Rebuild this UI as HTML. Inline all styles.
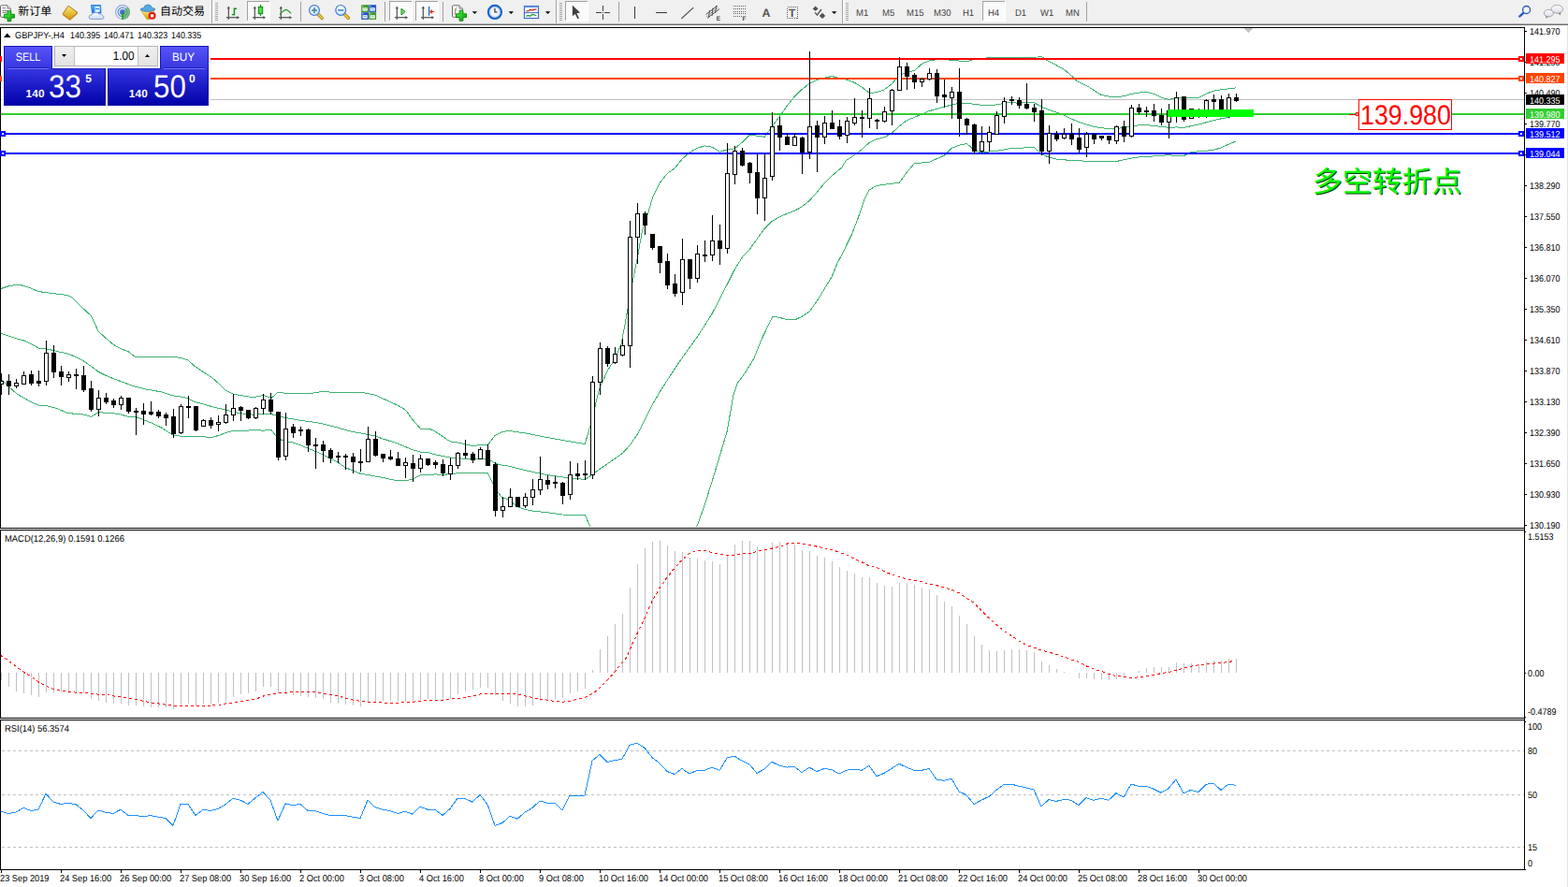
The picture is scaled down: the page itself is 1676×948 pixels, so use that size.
<!DOCTYPE html><html><head><meta charset="utf-8"><title>GBPJPY H4</title><style>
html,body{margin:0;padding:0;background:#fff;}
body{width:1676px;height:948px;position:relative;overflow:hidden;font-family:"Liberation Sans",sans-serif;text-rendering:geometricPrecision;}
.t{position:absolute;white-space:nowrap;font-size:10px;line-height:9px;color:#000;transform:scaleX(0.9);transform-origin:0 0;}
.ax{position:absolute;left:1635px;font-size:10px;line-height:9px;color:#000;white-space:nowrap;transform:scaleX(0.9);transform-origin:0 0;}
.ai{position:absolute;left:1633px;font-size:10px;line-height:9px;color:#000;white-space:nowrap;transform:scaleX(0.9);transform-origin:0 0;}
.pl{position:absolute;left:1631px;width:41px;height:11px;}
.pl span{position:absolute;left:4px;top:3px;color:#fff;font-size:10px;line-height:9px;white-space:nowrap;transform:scaleX(0.9);transform-origin:0 0;}
.tm{position:absolute;top:935px;font-size:10px;line-height:9px;color:#000;white-space:nowrap;transform:scaleX(0.925);transform-origin:0 0;}
.tf{position:absolute;top:10px;font-size:10px;line-height:9px;color:#404040;white-space:nowrap;transform:scaleX(0.95);transform-origin:0 0;}
.abs{position:absolute;}
svg{position:absolute;left:0;top:0;}

</style></head><body>
<div class="abs" style="left:0;top:0;width:1676px;height:25px;background:#f0f0f0"></div>
<div class="abs" style="left:0;top:25px;width:1676px;height:1px;background:#b2b2b2"></div>
<div class="abs" style="left:0;top:26px;width:1676px;height:1px;background:#6e6e6e"></div>
<svg width="1676" height="948" viewBox="0 0 1676 948" shape-rendering="crispEdges">
<rect x="0" y="29" width="1630" height="1" fill="#000"/>
<rect x="0" y="29" width="1" height="536" fill="#000"/>
<rect x="0" y="564" width="1630" height="1" fill="#000"/>
<rect x="1629" y="29" width="1" height="901" fill="#000"/>
<rect x="0" y="566" width="1630" height="1" fill="#000"/>
<rect x="0" y="566" width="1" height="202" fill="#000"/>
<rect x="0" y="767" width="1630" height="1" fill="#000"/>
<rect x="0" y="769" width="1630" height="1" fill="#000"/>
<rect x="0" y="769" width="1" height="161" fill="#000"/>
<rect x="0" y="929" width="1630" height="1" fill="#000"/>
<rect x="1675" y="27" width="1" height="921" fill="#e3e3e3"/>
<rect x="1" y="106" width="1628" height="1" fill="#c0c0c0"/>
<rect x="1630" y="33" width="2" height="1" fill="#000"/>
<rect x="1630" y="66" width="2" height="1" fill="#000"/>
<rect x="1630" y="99" width="2" height="1" fill="#000"/>
<rect x="1630" y="132" width="2" height="1" fill="#000"/>
<rect x="1630" y="165" width="2" height="1" fill="#000"/>
<rect x="1630" y="198" width="2" height="1" fill="#000"/>
<rect x="1630" y="231" width="2" height="1" fill="#000"/>
<rect x="1630" y="264" width="2" height="1" fill="#000"/>
<rect x="1630" y="297" width="2" height="1" fill="#000"/>
<rect x="1630" y="330" width="2" height="1" fill="#000"/>
<rect x="1630" y="363" width="2" height="1" fill="#000"/>
<rect x="1630" y="396" width="2" height="1" fill="#000"/>
<rect x="1630" y="429" width="2" height="1" fill="#000"/>
<rect x="1630" y="462" width="2" height="1" fill="#000"/>
<rect x="1630" y="495" width="2" height="1" fill="#000"/>
<rect x="1630" y="528" width="2" height="1" fill="#000"/>
<rect x="1630" y="561" width="2" height="1" fill="#000"/>
<rect x="1630" y="568" width="1" height="1" fill="#000"/>
<rect x="1630" y="719" width="1" height="1" fill="#000"/>
<rect x="1630" y="766" width="1" height="1" fill="#000"/>
<rect x="1630" y="771" width="1" height="1" fill="#000"/>
<rect x="1630" y="929" width="1" height="1" fill="#000"/>
<rect x="1" y="930" width="1" height="3" fill="#000"/>
<rect x="65" y="930" width="1" height="3" fill="#000"/>
<rect x="129" y="930" width="1" height="3" fill="#000"/>
<rect x="193" y="930" width="1" height="3" fill="#000"/>
<rect x="257" y="930" width="1" height="3" fill="#000"/>
<rect x="321" y="930" width="1" height="3" fill="#000"/>
<rect x="385" y="930" width="1" height="3" fill="#000"/>
<rect x="449" y="930" width="1" height="3" fill="#000"/>
<rect x="513" y="930" width="1" height="3" fill="#000"/>
<rect x="577" y="930" width="1" height="3" fill="#000"/>
<rect x="641" y="930" width="1" height="3" fill="#000"/>
<rect x="705" y="930" width="1" height="3" fill="#000"/>
<rect x="769" y="930" width="1" height="3" fill="#000"/>
<rect x="833" y="930" width="1" height="3" fill="#000"/>
<rect x="897" y="930" width="1" height="3" fill="#000"/>
<rect x="961" y="930" width="1" height="3" fill="#000"/>
<rect x="1025" y="930" width="1" height="3" fill="#000"/>
<rect x="1089" y="930" width="1" height="3" fill="#000"/>
<rect x="1153" y="930" width="1" height="3" fill="#000"/>
<rect x="1217" y="930" width="1" height="3" fill="#000"/>
<rect x="1281" y="930" width="1" height="3" fill="#000"/>
<clipPath id="cm"><rect x="1" y="30" width="1628" height="534"/></clipPath><g clip-path="url(#cm)">
<polyline points="0.0,308.8 8.9,305.9 17.7,304.4 24.4,305.1 33.2,308.2 41.0,311.5 48.7,312.6 57.6,313.7 66.5,314.8 73.1,316.1 76.4,317.7 88.6,329.4 97.5,337.6 105.2,354.2 113.0,361.3 120.7,368.0 128.5,372.4 137.3,375.9 145.1,381.9 152.8,381.3 168.4,381.3 186.1,381.3 194.9,383.0 200.5,384.8 208.2,391.5 217.1,397.4 225.9,403.0 234.8,410.7 241.5,417.4 249.2,421.1 257.0,422.5 265.8,424.0 271.4,424.5 274.4,423.9 281.1,422.5 289.9,425.4 297.0,419.4 305.4,420.3 320.9,421.0 336.5,419.9 345.3,418.1 358.6,419.9 374.1,419.4 389.6,419.9 400.7,422.1 409.6,426.1 425.1,433.2 433.3,438.0 441.2,448.7 449.2,458.0 458.3,458.0 464.9,460.9 473.1,466.4 481.1,471.9 489.3,473.0 497.3,474.8 505.3,476.4 513.2,475.7 521.2,475.7 529.2,465.3 537.2,461.5 542.5,460.4 543.3,460.3 562.2,463.0 584.3,467.4 606.5,471.4 625.3,474.5 628.6,463.0 633.3,447.5 637.5,427.5 641.2,414.2 649.2,396.5 657.4,383.2 664.1,367.7 667.4,350.0 676.5,299.5 681.4,275.1 686.5,246.3 693.1,226.4 697.5,210.9 705.3,195.4 713.3,185.4 721.2,179.9 729.2,169.9 737.4,162.8 745.4,158.2 753.4,155.9 761.3,157.3 769.3,162.2 777.3,159.9 785.3,158.8 793.2,152.2 801.4,144.0 809.2,145.2 817.2,146.3 825.4,135.3 833.4,124.2 841.4,113.1 849.3,103.1 857.3,95.4 865.3,89.2 873.3,85.4 881.2,83.2 889.2,81.4 897.4,83.6 905.4,85.4 913.4,88.3 921.3,93.2 929.3,99.4 937.3,98.7 945.3,95.8 953.2,89.8 961.4,79.9 969.4,77.7 977.4,75.4 985.3,68.4 993.3,64.8 1001.3,63.7 1009.3,63.3 1017.2,64.4 1025.4,65.0 1033.4,65.9 1039.2,63.9 1045.8,62.2 1068.9,61.7 1082.2,61.7 1097.2,61.7 1108.7,61.0 1113.2,60.4 1119.8,64.8 1129.3,69.9 1137.3,74.3 1145.3,81.0 1150.8,86.5 1161.2,91.4 1169.2,96.5 1177.4,101.6 1185.4,103.1 1193.4,103.6 1201.3,102.7 1209.3,100.5 1217.3,99.1 1225.3,98.3 1233.2,100.3 1241.4,104.2 1249.4,106.5 1257.4,104.2 1265.3,104.9 1273.3,104.9 1281.3,104.2 1289.3,100.3 1297.2,97.2 1305.4,95.8 1313.4,94.9 1321.4,93.8" fill="none" stroke="#3cb371" stroke-width="1" />
<polyline points="0.0,356.0 8.9,359.1 17.7,362.0 24.4,363.5 33.2,367.5 42.1,372.4 50.9,373.1 59.8,375.3 70.9,377.5 79.7,380.8 88.6,385.3 97.5,391.5 105.2,397.4 113.0,401.2 120.7,404.5 128.5,407.4 137.3,410.7 146.2,413.6 155.1,415.8 163.9,417.4 172.8,418.9 185.0,422.9 192.7,424.0 200.5,425.6 208.2,429.6 217.1,431.8 225.9,434.4 234.8,436.6 241.5,438.0 249.2,440.2 257.0,441.7 265.8,442.8 270.0,443.1 281.1,442.0 289.9,442.5 297.0,444.7 305.4,446.5 320.9,449.3 336.5,451.3 345.3,453.1 358.6,456.4 374.1,460.9 389.6,463.7 400.7,465.9 409.6,469.1 425.1,474.1 433.3,477.5 441.2,480.8 449.2,483.0 458.3,483.7 465.2,485.9 473.1,487.4 481.1,489.0 489.3,489.7 497.3,490.3 505.3,490.1 513.2,490.1 521.2,490.1 529.2,495.2 537.2,497.4 540.0,497.3 553.3,500.6 569.2,504.4 585.4,507.7 601.4,509.9 617.3,511.7 625.3,512.4 633.3,507.3 641.2,501.3 649.2,495.8 657.4,490.0 665.4,484.5 673.4,475.6 681.3,464.1 689.3,448.6 697.3,432.6 705.3,418.7 713.2,406.5 721.4,393.9 729.4,382.1 737.4,371.0 745.3,360.0 751.8,350.0 761.3,334.9 769.3,319.4 777.3,303.9 785.3,288.0 793.2,275.1 801.4,266.3 809.4,255.2 817.4,244.1 825.3,236.4 833.3,231.9 841.3,228.2 849.3,225.3 857.2,220.9 865.4,214.2 873.4,205.3 881.4,195.4 889.4,187.6 900.0,178.8 904.1,171.8 913.4,165.6 921.3,159.6 929.3,152.3 937.3,148.5 945.3,146.8 953.2,142.3 961.4,134.8 969.4,128.6 977.4,125.3 985.3,122.0 993.3,118.6 1001.3,116.4 1009.3,114.2 1017.2,112.0 1025.4,110.2 1033.4,110.4 1041.4,111.3 1049.4,112.4 1060.0,112.0 1062.2,112.2 1068.9,111.6 1073.3,109.8 1081.3,109.3 1089.2,110.4 1097.2,109.3 1105.4,109.8 1113.4,114.2 1121.4,117.5 1129.3,120.2 1137.3,123.1 1145.3,127.1 1153.3,130.4 1161.2,133.0 1169.2,135.3 1177.4,136.8 1185.4,137.5 1193.4,137.5 1201.3,136.4 1209.3,135.3 1217.3,133.7 1225.3,133.5 1233.2,134.6 1241.4,135.3 1249.4,136.4 1257.4,135.9 1265.3,136.4 1273.3,134.6 1281.3,133.0 1289.3,130.8 1297.2,128.6 1305.4,126.8 1313.4,125.3 1321.4,123.1" fill="none" stroke="#3cb371" stroke-width="1" />
<polyline points="0.0,404.1 8.9,412.9 17.7,420.7 24.4,424.7 33.2,429.6 42.1,433.5 50.9,434.0 59.8,436.2 73.1,441.7 88.6,442.8 97.5,445.5 105.2,440.6 113.0,441.3 120.7,441.7 128.5,442.8 137.3,445.5 145.1,445.5 152.8,448.4 163.9,452.8 172.8,457.2 185.0,465.0 192.7,466.1 200.5,466.6 217.1,466.6 225.9,467.7 234.8,465.0 243.7,461.7 249.2,460.6 265.8,460.1 270.0,459.1 281.1,460.2 289.9,459.3 297.0,468.6 305.4,471.9 313.2,473.0 320.9,475.7 329.1,479.2 337.1,482.3 345.3,485.9 353.1,490.1 361.0,494.1 369.2,499.6 377.2,502.9 385.2,506.3 393.2,507.4 401.1,509.1 409.1,510.3 417.1,512.2 425.1,514.0 433.3,513.6 441.2,512.2 449.2,507.8 458.3,507.4 465.2,506.9 473.1,507.4 481.1,506.7 489.3,505.8 497.3,505.2 505.3,505.2 513.2,505.2 521.2,505.2 529.2,521.8 537.2,532.8 540.0,532.1 548.9,538.3 553.3,541.6 561.3,544.5 569.2,546.0 585.4,547.8 601.4,550.0 625.3,550.5 630.8,562.7" fill="none" stroke="#3cb371" stroke-width="1" />
<polyline points="744.9,562.7 753.3,539.4 761.3,513.9 769.3,487.3 777.2,460.8 783.7,423.1 788.1,409.8 797.0,397.6 805.8,383.2 814.7,361.1 826.0,338.3 833.3,339.4 841.3,341.6 849.3,342.0 857.2,338.3 865.4,332.7 873.4,321.6 881.4,308.4 889.4,295.1 894.7,281.8 900.0,271.8 910.7,250.0 917.3,232.7 924.0,212.8 929.3,202.8 937.3,198.4 945.3,197.3 953.2,196.2 961.4,195.1 969.4,184.0 977.4,174.5 985.3,174.0 993.3,173.4 1001.3,169.6 1009.3,166.3 1017.2,158.5 1025.4,155.2 1033.4,153.4 1039.2,158.5 1041.4,161.4 1049.4,162.5 1060.0,161.8 1062.2,161.8 1068.9,160.7 1081.3,158.5 1089.2,159.0 1097.2,157.4 1105.4,157.4 1113.4,165.2 1121.4,168.0 1129.3,170.0 1137.3,170.7 1145.3,171.8 1153.3,171.8 1161.2,172.2 1169.2,172.9 1177.4,172.2 1185.4,172.5 1193.4,172.5 1201.3,170.7 1209.3,169.1 1217.3,168.0 1225.3,167.8 1233.2,166.9 1241.4,166.3 1249.4,165.6 1257.4,166.7 1265.3,166.7 1273.3,162.5 1281.3,161.8 1289.3,161.2 1297.2,160.3 1305.4,157.8 1313.4,154.1 1321.4,150.8" fill="none" stroke="#3cb371" stroke-width="1" />
<rect x="0" y="62" width="1629" height="2" fill="#ff0000"/>
<rect x="0" y="83" width="1629" height="2" fill="#ff4500"/>
<rect x="0" y="121" width="1629" height="2" fill="#32cd32"/>
<rect x="0" y="142" width="1629" height="2" fill="#0000ff"/>
<rect x="0" y="163" width="1629" height="2" fill="#0000ff"/>
<rect x="1" y="399" width="1" height="23" fill="#000"/>
<rect x="-1" y="407" width="5" height="4" fill="#000"/>
<rect x="0" y="408" width="3" height="2" fill="#fff"/>
<rect x="9" y="400" width="1" height="22" fill="#000"/>
<rect x="7" y="407" width="5" height="6" fill="#000"/>
<rect x="17" y="405" width="1" height="10" fill="#000"/>
<rect x="15" y="409" width="5" height="4" fill="#000"/>
<rect x="16" y="410" width="3" height="2" fill="#fff"/>
<rect x="25" y="397" width="1" height="14" fill="#000"/>
<rect x="23" y="401" width="5" height="10" fill="#000"/>
<rect x="24" y="402" width="3" height="8" fill="#fff"/>
<rect x="33" y="396" width="1" height="16" fill="#000"/>
<rect x="31" y="400" width="5" height="10" fill="#000"/>
<rect x="41" y="396" width="1" height="17" fill="#000"/>
<rect x="39" y="407" width="5" height="3" fill="#000"/>
<rect x="49" y="364" width="1" height="48" fill="#000"/>
<rect x="47" y="377" width="5" height="31" fill="#000"/>
<rect x="48" y="378" width="3" height="29" fill="#fff"/>
<rect x="57" y="369" width="1" height="35" fill="#000"/>
<rect x="55" y="377" width="5" height="21" fill="#000"/>
<rect x="65" y="391" width="1" height="21" fill="#000"/>
<rect x="63" y="397" width="5" height="6" fill="#000"/>
<rect x="73" y="397" width="1" height="11" fill="#000"/>
<rect x="71" y="400" width="5" height="4" fill="#000"/>
<rect x="72" y="401" width="3" height="2" fill="#fff"/>
<rect x="81" y="394" width="1" height="22" fill="#000"/>
<rect x="79" y="400" width="5" height="2" fill="#000"/>
<rect x="89" y="391" width="1" height="28" fill="#000"/>
<rect x="87" y="401" width="5" height="16" fill="#000"/>
<rect x="97" y="407" width="1" height="33" fill="#000"/>
<rect x="95" y="415" width="5" height="23" fill="#000"/>
<rect x="105" y="417" width="1" height="28" fill="#000"/>
<rect x="103" y="425" width="5" height="13" fill="#000"/>
<rect x="104" y="426" width="3" height="11" fill="#fff"/>
<rect x="113" y="420" width="1" height="12" fill="#000"/>
<rect x="111" y="425" width="5" height="5" fill="#000"/>
<rect x="121" y="426" width="1" height="10" fill="#000"/>
<rect x="119" y="428" width="5" height="5" fill="#000"/>
<rect x="129" y="423" width="1" height="15" fill="#000"/>
<rect x="127" y="425" width="5" height="8" fill="#000"/>
<rect x="128" y="426" width="3" height="6" fill="#fff"/>
<rect x="137" y="425" width="1" height="17" fill="#000"/>
<rect x="135" y="425" width="5" height="15" fill="#000"/>
<rect x="145" y="436" width="1" height="29" fill="#000"/>
<rect x="143" y="439" width="5" height="2" fill="#000"/>
<rect x="153" y="431" width="1" height="23" fill="#000"/>
<rect x="151" y="439" width="5" height="4" fill="#000"/>
<rect x="161" y="429" width="1" height="15" fill="#000"/>
<rect x="159" y="440" width="5" height="3" fill="#000"/>
<rect x="169" y="438" width="1" height="9" fill="#000"/>
<rect x="167" y="440" width="5" height="5" fill="#000"/>
<rect x="177" y="441" width="1" height="14" fill="#000"/>
<rect x="175" y="443" width="5" height="4" fill="#000"/>
<rect x="185" y="437" width="1" height="31" fill="#000"/>
<rect x="183" y="445" width="5" height="19" fill="#000"/>
<rect x="193" y="432" width="1" height="32" fill="#000"/>
<rect x="191" y="434" width="5" height="29" fill="#000"/>
<rect x="192" y="435" width="3" height="27" fill="#fff"/>
<rect x="201" y="423" width="1" height="24" fill="#000"/>
<rect x="199" y="434" width="5" height="2" fill="#000"/>
<rect x="209" y="434" width="1" height="27" fill="#000"/>
<rect x="207" y="434" width="5" height="26" fill="#000"/>
<rect x="217" y="448" width="1" height="8" fill="#000"/>
<rect x="215" y="449" width="5" height="7" fill="#000"/>
<rect x="216" y="450" width="3" height="5" fill="#fff"/>
<rect x="225" y="446" width="1" height="12" fill="#000"/>
<rect x="223" y="449" width="5" height="6" fill="#000"/>
<rect x="233" y="444" width="1" height="17" fill="#000"/>
<rect x="231" y="451" width="5" height="3" fill="#000"/>
<rect x="232" y="452" width="3" height="1" fill="#fff"/>
<rect x="241" y="432" width="1" height="21" fill="#000"/>
<rect x="239" y="443" width="5" height="9" fill="#000"/>
<rect x="240" y="444" width="3" height="7" fill="#fff"/>
<rect x="249" y="421" width="1" height="29" fill="#000"/>
<rect x="247" y="436" width="5" height="8" fill="#000"/>
<rect x="248" y="437" width="3" height="6" fill="#fff"/>
<rect x="257" y="434" width="1" height="16" fill="#000"/>
<rect x="255" y="435" width="5" height="4" fill="#000"/>
<rect x="265" y="438" width="1" height="10" fill="#000"/>
<rect x="263" y="438" width="5" height="9" fill="#000"/>
<rect x="273" y="435" width="1" height="13" fill="#000"/>
<rect x="271" y="436" width="5" height="11" fill="#000"/>
<rect x="272" y="437" width="3" height="9" fill="#fff"/>
<rect x="281" y="421" width="1" height="22" fill="#000"/>
<rect x="279" y="427" width="5" height="10" fill="#000"/>
<rect x="280" y="428" width="3" height="8" fill="#fff"/>
<rect x="289" y="420" width="1" height="23" fill="#000"/>
<rect x="287" y="427" width="5" height="13" fill="#000"/>
<rect x="297" y="440" width="1" height="52" fill="#000"/>
<rect x="295" y="440" width="5" height="49" fill="#000"/>
<rect x="305" y="441" width="1" height="51" fill="#000"/>
<rect x="303" y="458" width="5" height="30" fill="#000"/>
<rect x="304" y="459" width="3" height="28" fill="#fff"/>
<rect x="313" y="453" width="1" height="15" fill="#000"/>
<rect x="311" y="456" width="5" height="7" fill="#000"/>
<rect x="321" y="456" width="1" height="10" fill="#000"/>
<rect x="319" y="459" width="5" height="2" fill="#000"/>
<rect x="329" y="458" width="1" height="25" fill="#000"/>
<rect x="327" y="459" width="5" height="17" fill="#000"/>
<rect x="337" y="468" width="1" height="33" fill="#000"/>
<rect x="335" y="475" width="5" height="2" fill="#000"/>
<rect x="345" y="471" width="1" height="23" fill="#000"/>
<rect x="343" y="475" width="5" height="7" fill="#000"/>
<rect x="353" y="479" width="1" height="16" fill="#000"/>
<rect x="351" y="481" width="5" height="9" fill="#000"/>
<rect x="361" y="483" width="1" height="12" fill="#000"/>
<rect x="359" y="487" width="5" height="2" fill="#000"/>
<rect x="369" y="485" width="1" height="17" fill="#000"/>
<rect x="367" y="487" width="5" height="2" fill="#000"/>
<rect x="377" y="484" width="1" height="22" fill="#000"/>
<rect x="375" y="488" width="5" height="6" fill="#000"/>
<rect x="385" y="480" width="1" height="24" fill="#000"/>
<rect x="383" y="493" width="5" height="2" fill="#000"/>
<rect x="393" y="456" width="1" height="38" fill="#000"/>
<rect x="391" y="469" width="5" height="25" fill="#000"/>
<rect x="392" y="470" width="3" height="23" fill="#fff"/>
<rect x="401" y="461" width="1" height="27" fill="#000"/>
<rect x="399" y="469" width="5" height="18" fill="#000"/>
<rect x="409" y="485" width="1" height="9" fill="#000"/>
<rect x="407" y="485" width="5" height="5" fill="#000"/>
<rect x="417" y="481" width="1" height="11" fill="#000"/>
<rect x="415" y="488" width="5" height="3" fill="#000"/>
<rect x="425" y="483" width="1" height="15" fill="#000"/>
<rect x="423" y="490" width="5" height="8" fill="#000"/>
<rect x="433" y="489" width="1" height="22" fill="#000"/>
<rect x="431" y="494" width="5" height="4" fill="#000"/>
<rect x="432" y="495" width="3" height="2" fill="#fff"/>
<rect x="441" y="486" width="1" height="29" fill="#000"/>
<rect x="439" y="495" width="5" height="6" fill="#000"/>
<rect x="449" y="486" width="1" height="19" fill="#000"/>
<rect x="447" y="490" width="5" height="11" fill="#000"/>
<rect x="448" y="491" width="3" height="9" fill="#fff"/>
<rect x="457" y="490" width="1" height="8" fill="#000"/>
<rect x="455" y="490" width="5" height="7" fill="#000"/>
<rect x="465" y="492" width="1" height="9" fill="#000"/>
<rect x="463" y="494" width="5" height="3" fill="#000"/>
<rect x="473" y="491" width="1" height="18" fill="#000"/>
<rect x="471" y="496" width="5" height="10" fill="#000"/>
<rect x="481" y="489" width="1" height="24" fill="#000"/>
<rect x="479" y="497" width="5" height="10" fill="#000"/>
<rect x="480" y="498" width="3" height="8" fill="#fff"/>
<rect x="489" y="483" width="1" height="18" fill="#000"/>
<rect x="487" y="484" width="5" height="14" fill="#000"/>
<rect x="488" y="485" width="3" height="12" fill="#fff"/>
<rect x="497" y="470" width="1" height="20" fill="#000"/>
<rect x="495" y="484" width="5" height="3" fill="#000"/>
<rect x="505" y="483" width="1" height="12" fill="#000"/>
<rect x="503" y="485" width="5" height="7" fill="#000"/>
<rect x="513" y="478" width="1" height="13" fill="#000"/>
<rect x="511" y="480" width="5" height="11" fill="#000"/>
<rect x="512" y="481" width="3" height="9" fill="#fff"/>
<rect x="521" y="475" width="1" height="23" fill="#000"/>
<rect x="519" y="481" width="5" height="17" fill="#000"/>
<rect x="529" y="494" width="1" height="58" fill="#000"/>
<rect x="527" y="496" width="5" height="50" fill="#000"/>
<rect x="537" y="531" width="1" height="22" fill="#000"/>
<rect x="535" y="541" width="5" height="5" fill="#000"/>
<rect x="536" y="542" width="3" height="3" fill="#fff"/>
<rect x="545" y="522" width="1" height="20" fill="#000"/>
<rect x="543" y="531" width="5" height="11" fill="#000"/>
<rect x="544" y="532" width="3" height="9" fill="#fff"/>
<rect x="553" y="531" width="1" height="11" fill="#000"/>
<rect x="551" y="531" width="5" height="11" fill="#000"/>
<rect x="561" y="527" width="1" height="16" fill="#000"/>
<rect x="559" y="531" width="5" height="10" fill="#000"/>
<rect x="560" y="532" width="3" height="8" fill="#fff"/>
<rect x="569" y="512" width="1" height="28" fill="#000"/>
<rect x="567" y="523" width="5" height="9" fill="#000"/>
<rect x="568" y="524" width="3" height="7" fill="#fff"/>
<rect x="577" y="488" width="1" height="41" fill="#000"/>
<rect x="575" y="512" width="5" height="12" fill="#000"/>
<rect x="576" y="513" width="3" height="10" fill="#fff"/>
<rect x="585" y="508" width="1" height="15" fill="#000"/>
<rect x="583" y="513" width="5" height="5" fill="#000"/>
<rect x="593" y="509" width="1" height="13" fill="#000"/>
<rect x="591" y="515" width="5" height="2" fill="#000"/>
<rect x="601" y="515" width="1" height="24" fill="#000"/>
<rect x="599" y="516" width="5" height="14" fill="#000"/>
<rect x="609" y="493" width="1" height="41" fill="#000"/>
<rect x="607" y="507" width="5" height="22" fill="#000"/>
<rect x="608" y="508" width="3" height="20" fill="#fff"/>
<rect x="617" y="495" width="1" height="18" fill="#000"/>
<rect x="615" y="506" width="5" height="3" fill="#000"/>
<rect x="625" y="492" width="1" height="21" fill="#000"/>
<rect x="623" y="506" width="5" height="2" fill="#000"/>
<rect x="633" y="402" width="1" height="110" fill="#000"/>
<rect x="631" y="408" width="5" height="100" fill="#000"/>
<rect x="632" y="409" width="3" height="98" fill="#fff"/>
<rect x="641" y="366" width="1" height="56" fill="#000"/>
<rect x="639" y="372" width="5" height="37" fill="#000"/>
<rect x="640" y="373" width="3" height="35" fill="#fff"/>
<rect x="649" y="370" width="1" height="22" fill="#000"/>
<rect x="647" y="372" width="5" height="17" fill="#000"/>
<rect x="657" y="371" width="1" height="18" fill="#000"/>
<rect x="655" y="378" width="5" height="10" fill="#000"/>
<rect x="656" y="379" width="3" height="8" fill="#fff"/>
<rect x="665" y="362" width="1" height="19" fill="#000"/>
<rect x="663" y="369" width="5" height="11" fill="#000"/>
<rect x="664" y="370" width="3" height="9" fill="#fff"/>
<rect x="673" y="236" width="1" height="157" fill="#000"/>
<rect x="671" y="253" width="5" height="117" fill="#000"/>
<rect x="672" y="254" width="3" height="115" fill="#fff"/>
<rect x="681" y="217" width="1" height="65" fill="#000"/>
<rect x="679" y="228" width="5" height="26" fill="#000"/>
<rect x="680" y="229" width="3" height="24" fill="#fff"/>
<rect x="689" y="226" width="1" height="25" fill="#000"/>
<rect x="687" y="228" width="5" height="13" fill="#000"/>
<rect x="697" y="250" width="1" height="17" fill="#000"/>
<rect x="695" y="250" width="5" height="15" fill="#000"/>
<rect x="705" y="263" width="1" height="29" fill="#000"/>
<rect x="703" y="263" width="5" height="18" fill="#000"/>
<rect x="713" y="271" width="1" height="38" fill="#000"/>
<rect x="711" y="279" width="5" height="26" fill="#000"/>
<rect x="721" y="293" width="1" height="24" fill="#000"/>
<rect x="719" y="303" width="5" height="11" fill="#000"/>
<rect x="729" y="255" width="1" height="71" fill="#000"/>
<rect x="727" y="277" width="5" height="36" fill="#000"/>
<rect x="728" y="278" width="3" height="34" fill="#fff"/>
<rect x="737" y="277" width="1" height="32" fill="#000"/>
<rect x="735" y="277" width="5" height="21" fill="#000"/>
<rect x="745" y="262" width="1" height="40" fill="#000"/>
<rect x="743" y="271" width="5" height="27" fill="#000"/>
<rect x="744" y="272" width="3" height="25" fill="#fff"/>
<rect x="753" y="257" width="1" height="23" fill="#000"/>
<rect x="751" y="272" width="5" height="2" fill="#000"/>
<rect x="761" y="230" width="1" height="49" fill="#000"/>
<rect x="759" y="257" width="5" height="16" fill="#000"/>
<rect x="760" y="258" width="3" height="14" fill="#fff"/>
<rect x="769" y="240" width="1" height="43" fill="#000"/>
<rect x="767" y="257" width="5" height="9" fill="#000"/>
<rect x="777" y="153" width="1" height="118" fill="#000"/>
<rect x="775" y="185" width="5" height="81" fill="#000"/>
<rect x="776" y="186" width="3" height="79" fill="#fff"/>
<rect x="785" y="156" width="1" height="41" fill="#000"/>
<rect x="783" y="161" width="5" height="26" fill="#000"/>
<rect x="784" y="162" width="3" height="24" fill="#fff"/>
<rect x="793" y="158" width="1" height="20" fill="#000"/>
<rect x="791" y="161" width="5" height="16" fill="#000"/>
<rect x="801" y="173" width="1" height="23" fill="#000"/>
<rect x="799" y="174" width="5" height="11" fill="#000"/>
<rect x="809" y="165" width="1" height="64" fill="#000"/>
<rect x="807" y="184" width="5" height="28" fill="#000"/>
<rect x="817" y="164" width="1" height="72" fill="#000"/>
<rect x="815" y="190" width="5" height="22" fill="#000"/>
<rect x="816" y="191" width="3" height="20" fill="#fff"/>
<rect x="825" y="120" width="1" height="73" fill="#000"/>
<rect x="823" y="135" width="5" height="54" fill="#000"/>
<rect x="824" y="136" width="3" height="52" fill="#fff"/>
<rect x="833" y="125" width="1" height="36" fill="#000"/>
<rect x="831" y="134" width="5" height="13" fill="#000"/>
<rect x="841" y="142" width="1" height="13" fill="#000"/>
<rect x="839" y="146" width="5" height="9" fill="#000"/>
<rect x="849" y="142" width="1" height="14" fill="#000"/>
<rect x="847" y="146" width="5" height="10" fill="#000"/>
<rect x="848" y="147" width="3" height="8" fill="#fff"/>
<rect x="857" y="146" width="1" height="40" fill="#000"/>
<rect x="855" y="147" width="5" height="16" fill="#000"/>
<rect x="865" y="55" width="1" height="115" fill="#000"/>
<rect x="863" y="135" width="5" height="28" fill="#000"/>
<rect x="864" y="136" width="3" height="26" fill="#fff"/>
<rect x="873" y="129" width="1" height="55" fill="#000"/>
<rect x="871" y="134" width="5" height="13" fill="#000"/>
<rect x="881" y="124" width="1" height="30" fill="#000"/>
<rect x="879" y="131" width="5" height="16" fill="#000"/>
<rect x="880" y="132" width="3" height="14" fill="#fff"/>
<rect x="889" y="118" width="1" height="20" fill="#000"/>
<rect x="887" y="131" width="5" height="7" fill="#000"/>
<rect x="897" y="128" width="1" height="21" fill="#000"/>
<rect x="895" y="135" width="5" height="11" fill="#000"/>
<rect x="905" y="125" width="1" height="28" fill="#000"/>
<rect x="903" y="129" width="5" height="16" fill="#000"/>
<rect x="904" y="130" width="3" height="14" fill="#fff"/>
<rect x="913" y="105" width="1" height="29" fill="#000"/>
<rect x="911" y="125" width="5" height="7" fill="#000"/>
<rect x="912" y="126" width="3" height="5" fill="#fff"/>
<rect x="921" y="118" width="1" height="29" fill="#000"/>
<rect x="919" y="125" width="5" height="2" fill="#000"/>
<rect x="929" y="94" width="1" height="43" fill="#000"/>
<rect x="927" y="105" width="5" height="22" fill="#000"/>
<rect x="928" y="106" width="3" height="20" fill="#fff"/>
<rect x="937" y="127" width="1" height="11" fill="#000"/>
<rect x="935" y="128" width="5" height="2" fill="#000"/>
<rect x="945" y="114" width="1" height="17" fill="#000"/>
<rect x="943" y="119" width="5" height="11" fill="#000"/>
<rect x="944" y="120" width="3" height="9" fill="#fff"/>
<rect x="953" y="95" width="1" height="39" fill="#000"/>
<rect x="951" y="96" width="5" height="23" fill="#000"/>
<rect x="952" y="97" width="3" height="21" fill="#fff"/>
<rect x="961" y="61" width="1" height="36" fill="#000"/>
<rect x="959" y="71" width="5" height="26" fill="#000"/>
<rect x="960" y="72" width="3" height="24" fill="#fff"/>
<rect x="969" y="67" width="1" height="29" fill="#000"/>
<rect x="967" y="71" width="5" height="11" fill="#000"/>
<rect x="977" y="78" width="1" height="17" fill="#000"/>
<rect x="975" y="80" width="5" height="8" fill="#000"/>
<rect x="985" y="84" width="1" height="9" fill="#000"/>
<rect x="983" y="84" width="5" height="4" fill="#000"/>
<rect x="984" y="85" width="3" height="2" fill="#fff"/>
<rect x="993" y="73" width="1" height="13" fill="#000"/>
<rect x="991" y="78" width="5" height="7" fill="#000"/>
<rect x="992" y="79" width="3" height="5" fill="#fff"/>
<rect x="1001" y="74" width="1" height="36" fill="#000"/>
<rect x="999" y="78" width="5" height="25" fill="#000"/>
<rect x="1009" y="85" width="1" height="30" fill="#000"/>
<rect x="1007" y="101" width="5" height="3" fill="#000"/>
<rect x="1017" y="93" width="1" height="34" fill="#000"/>
<rect x="1015" y="98" width="5" height="7" fill="#000"/>
<rect x="1016" y="99" width="3" height="5" fill="#fff"/>
<rect x="1025" y="73" width="1" height="73" fill="#000"/>
<rect x="1023" y="98" width="5" height="29" fill="#000"/>
<rect x="1033" y="126" width="1" height="18" fill="#000"/>
<rect x="1031" y="127" width="5" height="7" fill="#000"/>
<rect x="1041" y="132" width="1" height="33" fill="#000"/>
<rect x="1039" y="133" width="5" height="29" fill="#000"/>
<rect x="1049" y="135" width="1" height="28" fill="#000"/>
<rect x="1047" y="151" width="5" height="11" fill="#000"/>
<rect x="1048" y="152" width="3" height="9" fill="#fff"/>
<rect x="1057" y="135" width="1" height="27" fill="#000"/>
<rect x="1055" y="141" width="5" height="11" fill="#000"/>
<rect x="1056" y="142" width="3" height="9" fill="#fff"/>
<rect x="1065" y="119" width="1" height="25" fill="#000"/>
<rect x="1063" y="123" width="5" height="21" fill="#000"/>
<rect x="1064" y="124" width="3" height="19" fill="#fff"/>
<rect x="1073" y="104" width="1" height="28" fill="#000"/>
<rect x="1071" y="108" width="5" height="17" fill="#000"/>
<rect x="1072" y="109" width="3" height="15" fill="#fff"/>
<rect x="1081" y="103" width="1" height="9" fill="#000"/>
<rect x="1079" y="106" width="5" height="2" fill="#000"/>
<rect x="1089" y="104" width="1" height="12" fill="#000"/>
<rect x="1087" y="107" width="5" height="6" fill="#000"/>
<rect x="1097" y="89" width="1" height="28" fill="#000"/>
<rect x="1095" y="111" width="5" height="5" fill="#000"/>
<rect x="1105" y="111" width="1" height="19" fill="#000"/>
<rect x="1103" y="115" width="5" height="5" fill="#000"/>
<rect x="1113" y="106" width="1" height="60" fill="#000"/>
<rect x="1111" y="118" width="5" height="44" fill="#000"/>
<rect x="1121" y="134" width="1" height="41" fill="#000"/>
<rect x="1119" y="142" width="5" height="20" fill="#000"/>
<rect x="1120" y="143" width="3" height="18" fill="#fff"/>
<rect x="1129" y="140" width="1" height="11" fill="#000"/>
<rect x="1127" y="143" width="5" height="6" fill="#000"/>
<rect x="1137" y="137" width="1" height="12" fill="#000"/>
<rect x="1135" y="143" width="5" height="5" fill="#000"/>
<rect x="1136" y="144" width="3" height="3" fill="#fff"/>
<rect x="1145" y="132" width="1" height="23" fill="#000"/>
<rect x="1143" y="143" width="5" height="6" fill="#000"/>
<rect x="1153" y="137" width="1" height="26" fill="#000"/>
<rect x="1151" y="147" width="5" height="13" fill="#000"/>
<rect x="1161" y="141" width="1" height="27" fill="#000"/>
<rect x="1159" y="143" width="5" height="15" fill="#000"/>
<rect x="1160" y="144" width="3" height="13" fill="#fff"/>
<rect x="1169" y="142" width="1" height="12" fill="#000"/>
<rect x="1167" y="143" width="5" height="6" fill="#000"/>
<rect x="1177" y="145" width="1" height="5" fill="#000"/>
<rect x="1175" y="145" width="5" height="3" fill="#000"/>
<rect x="1185" y="145" width="1" height="9" fill="#000"/>
<rect x="1183" y="145" width="5" height="5" fill="#000"/>
<rect x="1193" y="134" width="1" height="20" fill="#000"/>
<rect x="1191" y="135" width="5" height="16" fill="#000"/>
<rect x="1192" y="136" width="3" height="14" fill="#fff"/>
<rect x="1201" y="129" width="1" height="23" fill="#000"/>
<rect x="1199" y="135" width="5" height="11" fill="#000"/>
<rect x="1209" y="112" width="1" height="35" fill="#000"/>
<rect x="1207" y="115" width="5" height="31" fill="#000"/>
<rect x="1208" y="116" width="3" height="29" fill="#fff"/>
<rect x="1217" y="111" width="1" height="11" fill="#000"/>
<rect x="1215" y="115" width="5" height="5" fill="#000"/>
<rect x="1225" y="114" width="1" height="11" fill="#000"/>
<rect x="1223" y="118" width="5" height="2" fill="#000"/>
<rect x="1233" y="111" width="1" height="19" fill="#000"/>
<rect x="1231" y="118" width="5" height="6" fill="#000"/>
<rect x="1241" y="116" width="1" height="18" fill="#000"/>
<rect x="1239" y="123" width="5" height="8" fill="#000"/>
<rect x="1249" y="111" width="1" height="37" fill="#000"/>
<rect x="1247" y="118" width="5" height="13" fill="#000"/>
<rect x="1248" y="119" width="3" height="11" fill="#fff"/>
<rect x="1257" y="98" width="1" height="33" fill="#000"/>
<rect x="1255" y="104" width="5" height="15" fill="#000"/>
<rect x="1256" y="105" width="3" height="13" fill="#fff"/>
<rect x="1265" y="103" width="1" height="27" fill="#000"/>
<rect x="1263" y="103" width="5" height="25" fill="#000"/>
<rect x="1273" y="116" width="1" height="11" fill="#000"/>
<rect x="1271" y="116" width="5" height="11" fill="#000"/>
<rect x="1272" y="117" width="3" height="9" fill="#fff"/>
<rect x="1281" y="116" width="1" height="10" fill="#000"/>
<rect x="1279" y="122" width="5" height="2" fill="#000"/>
<rect x="1289" y="106" width="1" height="20" fill="#000"/>
<rect x="1287" y="107" width="5" height="14" fill="#000"/>
<rect x="1288" y="108" width="3" height="12" fill="#fff"/>
<rect x="1297" y="101" width="1" height="18" fill="#000"/>
<rect x="1295" y="106" width="5" height="3" fill="#000"/>
<rect x="1305" y="102" width="1" height="18" fill="#000"/>
<rect x="1303" y="106" width="5" height="13" fill="#000"/>
<rect x="1313" y="100" width="1" height="26" fill="#000"/>
<rect x="1311" y="104" width="5" height="15" fill="#000"/>
<rect x="1312" y="105" width="3" height="13" fill="#fff"/>
<rect x="1321" y="100" width="1" height="9" fill="#000"/>
<rect x="1319" y="104" width="5" height="4" fill="#000"/>
<rect x="1248" y="117" width="92" height="8" fill="#00ff00"/>
</g>
<rect x="1623" y="60" width="6" height="6" fill="#ff0000"/>
<rect x="1625" y="62" width="2" height="2" fill="#fff"/>
<rect x="0" y="60" width="2" height="6" fill="#ff0000"/>
<rect x="1623" y="81" width="6" height="6" fill="#ff4500"/>
<rect x="1625" y="83" width="2" height="2" fill="#fff"/>
<rect x="0" y="81" width="2" height="6" fill="#ff4500"/>
<rect x="1623" y="140" width="6" height="6" fill="#0000ff"/>
<rect x="1625" y="142" width="2" height="2" fill="#fff"/>
<rect x="0" y="140" width="6" height="6" fill="#0000ff"/>
<rect x="2" y="142" width="2" height="2" fill="#fff"/>
<rect x="1623" y="161" width="6" height="6" fill="#0000ff"/>
<rect x="1625" y="163" width="2" height="2" fill="#fff"/>
<rect x="0" y="161" width="6" height="6" fill="#0000ff"/>
<rect x="2" y="163" width="2" height="2" fill="#fff"/>
<polygon points="1329,30 1339,30 1334,35" fill="#c0c0c0"/>
<rect x="1" y="719" width="1" height="8" fill="#c0c0c0"/>
<rect x="9" y="719" width="1" height="15" fill="#c0c0c0"/>
<rect x="17" y="719" width="1" height="20" fill="#c0c0c0"/>
<rect x="25" y="719" width="1" height="22" fill="#c0c0c0"/>
<rect x="33" y="719" width="1" height="24" fill="#c0c0c0"/>
<rect x="41" y="719" width="1" height="26" fill="#c0c0c0"/>
<rect x="49" y="719" width="1" height="21" fill="#c0c0c0"/>
<rect x="57" y="719" width="1" height="21" fill="#c0c0c0"/>
<rect x="65" y="719" width="1" height="21" fill="#c0c0c0"/>
<rect x="73" y="719" width="1" height="22" fill="#c0c0c0"/>
<rect x="81" y="719" width="1" height="21" fill="#c0c0c0"/>
<rect x="89" y="719" width="1" height="22" fill="#c0c0c0"/>
<rect x="97" y="719" width="1" height="28" fill="#c0c0c0"/>
<rect x="105" y="719" width="1" height="30" fill="#c0c0c0"/>
<rect x="113" y="719" width="1" height="32" fill="#c0c0c0"/>
<rect x="121" y="719" width="1" height="33" fill="#c0c0c0"/>
<rect x="129" y="719" width="1" height="33" fill="#c0c0c0"/>
<rect x="137" y="719" width="1" height="35" fill="#c0c0c0"/>
<rect x="145" y="719" width="1" height="35" fill="#c0c0c0"/>
<rect x="153" y="719" width="1" height="36" fill="#c0c0c0"/>
<rect x="161" y="719" width="1" height="37" fill="#c0c0c0"/>
<rect x="169" y="719" width="1" height="37" fill="#c0c0c0"/>
<rect x="177" y="719" width="1" height="37" fill="#c0c0c0"/>
<rect x="185" y="719" width="1" height="39" fill="#c0c0c0"/>
<rect x="193" y="719" width="1" height="36" fill="#c0c0c0"/>
<rect x="201" y="719" width="1" height="33" fill="#c0c0c0"/>
<rect x="209" y="719" width="1" height="35" fill="#c0c0c0"/>
<rect x="217" y="719" width="1" height="34" fill="#c0c0c0"/>
<rect x="225" y="719" width="1" height="33" fill="#c0c0c0"/>
<rect x="233" y="719" width="1" height="32" fill="#c0c0c0"/>
<rect x="241" y="719" width="1" height="30" fill="#c0c0c0"/>
<rect x="249" y="719" width="1" height="26" fill="#c0c0c0"/>
<rect x="257" y="719" width="1" height="23" fill="#c0c0c0"/>
<rect x="265" y="719" width="1" height="22" fill="#c0c0c0"/>
<rect x="273" y="719" width="1" height="20" fill="#c0c0c0"/>
<rect x="281" y="719" width="1" height="15" fill="#c0c0c0"/>
<rect x="289" y="719" width="1" height="15" fill="#c0c0c0"/>
<rect x="297" y="719" width="1" height="22" fill="#c0c0c0"/>
<rect x="305" y="719" width="1" height="23" fill="#c0c0c0"/>
<rect x="313" y="719" width="1" height="24" fill="#c0c0c0"/>
<rect x="321" y="719" width="1" height="25" fill="#c0c0c0"/>
<rect x="329" y="719" width="1" height="26" fill="#c0c0c0"/>
<rect x="337" y="719" width="1" height="27" fill="#c0c0c0"/>
<rect x="345" y="719" width="1" height="28" fill="#c0c0c0"/>
<rect x="353" y="719" width="1" height="32" fill="#c0c0c0"/>
<rect x="361" y="719" width="1" height="33" fill="#c0c0c0"/>
<rect x="369" y="719" width="1" height="34" fill="#c0c0c0"/>
<rect x="377" y="719" width="1" height="35" fill="#c0c0c0"/>
<rect x="385" y="719" width="1" height="36" fill="#c0c0c0"/>
<rect x="393" y="719" width="1" height="32" fill="#c0c0c0"/>
<rect x="401" y="719" width="1" height="31" fill="#c0c0c0"/>
<rect x="409" y="719" width="1" height="30" fill="#c0c0c0"/>
<rect x="417" y="719" width="1" height="30" fill="#c0c0c0"/>
<rect x="425" y="719" width="1" height="31" fill="#c0c0c0"/>
<rect x="433" y="719" width="1" height="31" fill="#c0c0c0"/>
<rect x="441" y="719" width="1" height="31" fill="#c0c0c0"/>
<rect x="449" y="719" width="1" height="29" fill="#c0c0c0"/>
<rect x="457" y="719" width="1" height="28" fill="#c0c0c0"/>
<rect x="465" y="719" width="1" height="28" fill="#c0c0c0"/>
<rect x="473" y="719" width="1" height="29" fill="#c0c0c0"/>
<rect x="481" y="719" width="1" height="28" fill="#c0c0c0"/>
<rect x="489" y="719" width="1" height="23" fill="#c0c0c0"/>
<rect x="497" y="719" width="1" height="20" fill="#c0c0c0"/>
<rect x="505" y="719" width="1" height="18" fill="#c0c0c0"/>
<rect x="513" y="719" width="1" height="16" fill="#c0c0c0"/>
<rect x="521" y="719" width="1" height="16" fill="#c0c0c0"/>
<rect x="529" y="719" width="1" height="24" fill="#c0c0c0"/>
<rect x="537" y="719" width="1" height="30" fill="#c0c0c0"/>
<rect x="545" y="719" width="1" height="33" fill="#c0c0c0"/>
<rect x="553" y="719" width="1" height="36" fill="#c0c0c0"/>
<rect x="561" y="719" width="1" height="36" fill="#c0c0c0"/>
<rect x="569" y="719" width="1" height="35" fill="#c0c0c0"/>
<rect x="577" y="719" width="1" height="30" fill="#c0c0c0"/>
<rect x="585" y="719" width="1" height="29" fill="#c0c0c0"/>
<rect x="593" y="719" width="1" height="28" fill="#c0c0c0"/>
<rect x="601" y="719" width="1" height="27" fill="#c0c0c0"/>
<rect x="609" y="719" width="1" height="22" fill="#c0c0c0"/>
<rect x="617" y="719" width="1" height="20" fill="#c0c0c0"/>
<rect x="625" y="719" width="1" height="17" fill="#c0c0c0"/>
<rect x="633" y="716" width="1" height="3" fill="#c0c0c0"/>
<rect x="641" y="694" width="1" height="25" fill="#c0c0c0"/>
<rect x="649" y="680" width="1" height="39" fill="#c0c0c0"/>
<rect x="657" y="667" width="1" height="52" fill="#c0c0c0"/>
<rect x="665" y="656" width="1" height="63" fill="#c0c0c0"/>
<rect x="673" y="628" width="1" height="91" fill="#c0c0c0"/>
<rect x="681" y="603" width="1" height="116" fill="#c0c0c0"/>
<rect x="689" y="586" width="1" height="133" fill="#c0c0c0"/>
<rect x="697" y="579" width="1" height="140" fill="#c0c0c0"/>
<rect x="705" y="578" width="1" height="141" fill="#c0c0c0"/>
<rect x="713" y="583" width="1" height="136" fill="#c0c0c0"/>
<rect x="721" y="589" width="1" height="130" fill="#c0c0c0"/>
<rect x="729" y="590" width="1" height="129" fill="#c0c0c0"/>
<rect x="737" y="596" width="1" height="123" fill="#c0c0c0"/>
<rect x="745" y="597" width="1" height="122" fill="#c0c0c0"/>
<rect x="753" y="599" width="1" height="120" fill="#c0c0c0"/>
<rect x="761" y="600" width="1" height="119" fill="#c0c0c0"/>
<rect x="769" y="603" width="1" height="116" fill="#c0c0c0"/>
<rect x="777" y="593" width="1" height="126" fill="#c0c0c0"/>
<rect x="785" y="582" width="1" height="137" fill="#c0c0c0"/>
<rect x="793" y="578" width="1" height="141" fill="#c0c0c0"/>
<rect x="801" y="578" width="1" height="141" fill="#c0c0c0"/>
<rect x="809" y="584" width="1" height="135" fill="#c0c0c0"/>
<rect x="817" y="586" width="1" height="133" fill="#c0c0c0"/>
<rect x="825" y="580" width="1" height="139" fill="#c0c0c0"/>
<rect x="833" y="579" width="1" height="140" fill="#c0c0c0"/>
<rect x="841" y="581" width="1" height="138" fill="#c0c0c0"/>
<rect x="849" y="582" width="1" height="137" fill="#c0c0c0"/>
<rect x="857" y="588" width="1" height="131" fill="#c0c0c0"/>
<rect x="865" y="589" width="1" height="130" fill="#c0c0c0"/>
<rect x="873" y="594" width="1" height="125" fill="#c0c0c0"/>
<rect x="881" y="596" width="1" height="123" fill="#c0c0c0"/>
<rect x="889" y="600" width="1" height="119" fill="#c0c0c0"/>
<rect x="897" y="606" width="1" height="113" fill="#c0c0c0"/>
<rect x="905" y="610" width="1" height="109" fill="#c0c0c0"/>
<rect x="913" y="613" width="1" height="106" fill="#c0c0c0"/>
<rect x="921" y="617" width="1" height="102" fill="#c0c0c0"/>
<rect x="929" y="617" width="1" height="102" fill="#c0c0c0"/>
<rect x="937" y="623" width="1" height="96" fill="#c0c0c0"/>
<rect x="945" y="626" width="1" height="93" fill="#c0c0c0"/>
<rect x="953" y="627" width="1" height="92" fill="#c0c0c0"/>
<rect x="961" y="623" width="1" height="96" fill="#c0c0c0"/>
<rect x="969" y="623" width="1" height="96" fill="#c0c0c0"/>
<rect x="977" y="625" width="1" height="94" fill="#c0c0c0"/>
<rect x="985" y="628" width="1" height="91" fill="#c0c0c0"/>
<rect x="993" y="630" width="1" height="89" fill="#c0c0c0"/>
<rect x="1001" y="636" width="1" height="83" fill="#c0c0c0"/>
<rect x="1009" y="643" width="1" height="76" fill="#c0c0c0"/>
<rect x="1017" y="648" width="1" height="71" fill="#c0c0c0"/>
<rect x="1025" y="658" width="1" height="61" fill="#c0c0c0"/>
<rect x="1033" y="667" width="1" height="52" fill="#c0c0c0"/>
<rect x="1041" y="680" width="1" height="39" fill="#c0c0c0"/>
<rect x="1049" y="689" width="1" height="30" fill="#c0c0c0"/>
<rect x="1057" y="695" width="1" height="24" fill="#c0c0c0"/>
<rect x="1065" y="696" width="1" height="23" fill="#c0c0c0"/>
<rect x="1073" y="695" width="1" height="24" fill="#c0c0c0"/>
<rect x="1081" y="694" width="1" height="25" fill="#c0c0c0"/>
<rect x="1089" y="694" width="1" height="25" fill="#c0c0c0"/>
<rect x="1097" y="695" width="1" height="24" fill="#c0c0c0"/>
<rect x="1105" y="697" width="1" height="22" fill="#c0c0c0"/>
<rect x="1113" y="707" width="1" height="12" fill="#c0c0c0"/>
<rect x="1121" y="711" width="1" height="8" fill="#c0c0c0"/>
<rect x="1129" y="715" width="1" height="4" fill="#c0c0c0"/>
<rect x="1137" y="718" width="1" height="1" fill="#c0c0c0"/>
<rect x="1153" y="719" width="1" height="6" fill="#c0c0c0"/>
<rect x="1161" y="719" width="1" height="6" fill="#c0c0c0"/>
<rect x="1169" y="719" width="1" height="7" fill="#c0c0c0"/>
<rect x="1177" y="719" width="1" height="7" fill="#c0c0c0"/>
<rect x="1185" y="719" width="1" height="8" fill="#c0c0c0"/>
<rect x="1193" y="719" width="1" height="7" fill="#c0c0c0"/>
<rect x="1201" y="719" width="1" height="5" fill="#c0c0c0"/>
<rect x="1217" y="717" width="1" height="2" fill="#c0c0c0"/>
<rect x="1225" y="714" width="1" height="5" fill="#c0c0c0"/>
<rect x="1233" y="713" width="1" height="6" fill="#c0c0c0"/>
<rect x="1241" y="713" width="1" height="6" fill="#c0c0c0"/>
<rect x="1249" y="713" width="1" height="6" fill="#c0c0c0"/>
<rect x="1257" y="708" width="1" height="11" fill="#c0c0c0"/>
<rect x="1265" y="709" width="1" height="10" fill="#c0c0c0"/>
<rect x="1273" y="709" width="1" height="10" fill="#c0c0c0"/>
<rect x="1281" y="710" width="1" height="9" fill="#c0c0c0"/>
<rect x="1289" y="707" width="1" height="12" fill="#c0c0c0"/>
<rect x="1297" y="706" width="1" height="13" fill="#c0c0c0"/>
<rect x="1305" y="706" width="1" height="13" fill="#c0c0c0"/>
<rect x="1313" y="704" width="1" height="15" fill="#c0c0c0"/>
<rect x="1321" y="704" width="1" height="15" fill="#c0c0c0"/>
<clipPath id="c2"><rect x="1" y="567" width="1628" height="200"/></clipPath><g clip-path="url(#c2)">
<polyline points="0.0,700.0 7.5,705.0 15.0,710.6 25.1,718.3 33.1,722.6 41.1,728.8 49.1,733.1 57.1,736.4 65.2,737.6 73.2,739.4 81.2,740.1 89.2,740.1 97.2,741.4 105.3,742.1 113.3,742.1 121.3,743.9 129.3,745.1 137.3,746.4 145.4,747.6 153.4,749.4 161.4,750.9 169.4,751.9 177.4,753.2 185.5,754.4 193.5,754.4 201.5,754.4 209.5,754.4 217.5,754.4 225.6,754.2 233.6,753.4 241.6,751.9 249.6,750.9 257.6,749.6 265.7,748.4 273.7,747.1 281.7,743.9 289.7,742.1 297.7,740.9 305.8,740.1 313.8,739.4 321.8,739.4 329.8,739.4 337.8,740.1 345.9,741.4 353.9,742.6 361.9,743.9 369.9,746.4 377.9,748.1 386.0,749.6 394.0,750.2 400.0,750.2 409.0,750.9 417.0,751.4 425.1,751.4 433.1,750.2 441.1,750.2 449.1,749.4 457.1,748.1 465.2,748.1 473.2,748.1 481.2,747.1 489.2,746.4 497.2,745.1 505.3,743.9 513.3,741.9 521.3,741.4 529.3,741.4 537.3,741.4 545.4,741.4 553.4,741.9 561.4,743.9 569.4,745.6 577.4,747.6 585.5,748.1 593.5,749.6 601.5,750.2 609.5,749.4 617.5,747.1 625.6,745.1 633.6,741.4 641.6,734.6 649.6,726.3 657.6,717.6 665.1,707.8 670.1,702.1 673.1,694.6 681.2,677.0 689.2,660.7 697.2,641.9 705.2,628.2 713.2,616.9 721.3,606.8 729.3,598.1 737.3,591.1 745.3,588.6 753.3,588.6 761.4,590.6 769.4,592.3 777.4,593.8 785.4,593.1 793.4,591.8 801.5,591.3 809.5,589.3 817.5,587.5 825.5,586.0 833.5,584.3 841.6,581.0 849.6,580.0 857.6,581.0 865.6,582.3 873.6,584.3 881.7,586.0 889.7,587.5 897.7,590.6 905.7,593.1 913.7,597.3 921.8,601.1 929.8,605.1 937.8,606.8 945.8,611.1 953.8,614.4 961.9,616.4 969.9,619.4 977.9,620.6 985.9,621.9 993.9,624.4 1002.5,626.0 1009.0,628.1 1017.0,630.1 1025.1,633.8 1033.1,639.3 1041.1,644.3 1049.1,652.6 1057.1,660.6 1065.2,667.6 1073.2,674.4 1081.2,679.4 1089.2,685.2 1097.2,689.5 1105.3,692.0 1113.3,695.2 1121.3,697.0 1129.3,699.5 1137.3,702.0 1145.4,705.2 1153.4,707.5 1161.4,712.0 1169.4,715.3 1177.4,717.5 1185.5,720.8 1193.5,722.5 1201.5,723.3 1209.5,724.5 1217.5,723.8 1225.6,722.5 1233.6,721.5 1241.6,719.5 1249.6,718.3 1257.6,716.3 1265.7,714.0 1273.7,712.0 1281.7,710.8 1289.7,710.0 1297.7,709.0 1305.8,708.3 1313.8,707.5 1318.3,706.2" fill="none" stroke="#ff0000" stroke-width="1" stroke-dasharray="3 3"/>
</g>
<line x1="2" y1="802.5" x2="1629" y2="802.5" stroke="#c0c0c0" stroke-width="1" stroke-dasharray="3 3"/>
<line x1="2" y1="849.5" x2="1629" y2="849.5" stroke="#c0c0c0" stroke-width="1" stroke-dasharray="3 3"/>
<line x1="2" y1="905.5" x2="1629" y2="905.5" stroke="#c0c0c0" stroke-width="1" stroke-dasharray="3 3"/>
<polyline points="1.0,867.2 9.0,869.5 17.0,868.2 25.0,863.2 33.0,866.5 41.0,865.2 49.0,848.2 57.0,857.2 65.0,859.4 73.0,858.2 81.0,859.7 89.0,866.0 97.0,874.5 105.0,866.0 113.0,868.2 121.0,869.5 129.0,865.2 137.0,871.5 145.0,871.5 153.0,872.7 161.0,871.5 169.0,873.2 177.0,874.5 185.0,882.3 193.0,859.4 201.0,859.4 209.0,871.5 217.0,865.2 225.0,866.5 233.0,864.5 241.0,859.7 249.0,853.2 257.0,855.2 265.0,859.4 273.0,852.7 281.0,846.4 289.0,855.2 297.0,877.2 305.0,858.9 313.0,860.7 321.0,859.4 329.0,866.5 337.0,866.5 345.0,869.5 353.0,871.5 361.0,871.5 369.0,871.5 377.0,873.2 385.0,874.5 393.0,855.2 401.0,862.7 409.0,865.2 417.0,866.5 425.0,869.5 433.0,867.2 441.0,870.2 449.0,862.2 457.0,865.2 465.0,865.2 473.0,871.5 481.0,864.5 489.0,853.2 497.0,853.4 505.0,857.2 513.0,849.4 521.0,859.7 529.0,882.3 537.0,879.5 545.0,872.2 553.0,875.2 561.0,868.2 569.0,863.5 577.0,855.9 585.0,858.2 593.0,858.2 601.0,865.7 609.0,850.2 617.0,850.2 625.0,850.2 633.0,813.1 641.0,806.3 649.0,814.6 657.0,812.6 665.0,811.3 673.0,796.3 681.0,794.3 689.0,799.3 697.0,809.6 705.0,815.8 713.0,824.4 721.0,827.6 729.0,821.4 737.0,827.1 745.0,823.4 753.0,823.4 761.0,820.1 769.0,823.4 777.0,810.1 785.0,808.1 793.0,813.1 801.0,816.8 809.0,826.4 817.0,822.1 825.0,814.3 833.0,818.1 841.0,820.1 849.0,819.3 857.0,825.6 865.0,820.1 873.0,824.6 881.0,821.4 889.0,822.6 897.0,827.1 905.0,823.1 913.0,822.1 921.0,823.4 929.0,818.3 937.0,829.6 945.0,826.4 953.0,821.4 961.0,816.3 969.0,820.1 977.0,823.4 985.0,823.4 993.0,821.4 1001.0,833.1 1009.0,834.4 1017.0,832.1 1025.0,845.9 1033.0,849.7 1041.0,859.4 1049.0,855.2 1057.0,851.4 1065.0,844.4 1073.0,838.4 1081.0,838.1 1089.0,840.2 1097.0,841.9 1105.0,843.9 1113.0,862.2 1121.0,854.4 1129.0,856.4 1137.0,854.4 1145.0,855.2 1153.0,860.7 1161.0,852.7 1169.0,855.2 1177.0,853.4 1185.0,855.2 1193.0,847.7 1201.0,852.2 1209.0,838.1 1217.0,840.2 1225.0,840.2 1233.0,843.2 1241.0,847.2 1249.0,842.7 1257.0,833.1 1265.0,847.7 1273.0,844.4 1281.0,846.4 1289.0,838.4 1297.0,837.1 1305.0,844.4 1313.0,838.1 1321.0,839.4" fill="none" stroke="#1e90ff" stroke-width="1" />
<rect x="1452" y="106" width="100" height="1" fill="#ff0000"/>
<rect x="1452" y="138" width="100" height="1" fill="#ff0000"/>
<rect x="1452" y="106" width="1" height="33" fill="#ff0000"/>
<rect x="1551" y="106" width="1" height="33" fill="#ff0000"/>
<rect x="1453" y="107" width="98" height="31" fill="#fff"/>
<rect x="1442" y="122" width="7" height="1" fill="#ff0000"/>
<rect x="1449" y="120" width="3" height="4" fill="#ff0000"/>
<rect x="1450" y="121" width="1" height="2" fill="#fff"/>
</svg>
<svg width="1676" height="948" viewBox="0 0 1676 948"><g transform="translate(1403.3,206.3) scale(1.03,1)"><text x="0.5" y="0" font-family="'Liberation Sans','Noto Sans CJK SC',sans-serif" font-size="31" fill="#0b3a0b">多空转折点</text></g><g transform="translate(1402.3,205.3) scale(1.03,1)"><text x="0.5" y="0" font-family="'Liberation Sans','Noto Sans CJK SC',sans-serif" font-size="31" fill="#00ff00">多空转折点</text></g></svg>
<div class="abs" style="left:1454.2px;top:107.85px;font-size:29.6px;line-height:31px;color:#ff0000;white-space:nowrap;transform:scaleX(0.905);transform-origin:0 0">139.980</div>
<div class="ax" style="top:30px">141.970</div>
<div class="ax" style="top:63px">141.230</div>
<div class="ax" style="top:96px">140.490</div>
<div class="ax" style="top:129px">139.770</div>
<div class="ax" style="top:162px">139.030</div>
<div class="ax" style="top:195px">138.290</div>
<div class="ax" style="top:228px">137.550</div>
<div class="ax" style="top:261px">136.810</div>
<div class="ax" style="top:294px">136.070</div>
<div class="ax" style="top:327px">135.350</div>
<div class="ax" style="top:360px">134.610</div>
<div class="ax" style="top:393px">133.870</div>
<div class="ax" style="top:426px">133.130</div>
<div class="ax" style="top:459px">132.390</div>
<div class="ax" style="top:492px">131.650</div>
<div class="ax" style="top:525px">130.930</div>
<div class="ax" style="top:558px">130.190</div>
<div class="ai" style="top:570px">1.5153</div>
<div class="ai" style="top:716px">0.00</div>
<div class="ai" style="top:757px">-0.4789</div>
<div class="ai" style="top:773px">100</div>
<div class="ai" style="top:799px">80</div>
<div class="ai" style="top:846px">50</div>
<div class="ai" style="top:902px">15</div>
<div class="ai" style="top:919px">0</div>
<div class="pl" style="top:57px;background:#ff0000"><span>141.295</span></div>
<div class="pl" style="top:78px;background:#ff4500"><span>140.827</span></div>
<div class="pl" style="top:101px;background:#000"><span>140.335</span></div>
<div class="pl" style="top:116px;background:#32cd32"><span>139.980</span></div>
<div class="pl" style="top:137px;background:#0000ff"><span>139.512</span></div>
<div class="pl" style="top:158px;background:#0000ff"><span>139.044</span></div>
<div class="tm" style="left:0px">23 Sep 2019</div>
<div class="tm" style="left:64px">24 Sep 16:00</div>
<div class="tm" style="left:128px">26 Sep 00:00</div>
<div class="tm" style="left:192px">27 Sep 08:00</div>
<div class="tm" style="left:256px">30 Sep 16:00</div>
<div class="tm" style="left:320px">2 Oct 00:00</div>
<div class="tm" style="left:384px">3 Oct 08:00</div>
<div class="tm" style="left:448px">4 Oct 16:00</div>
<div class="tm" style="left:512px">8 Oct 00:00</div>
<div class="tm" style="left:576px">9 Oct 08:00</div>
<div class="tm" style="left:640px">10 Oct 16:00</div>
<div class="tm" style="left:704px">14 Oct 00:00</div>
<div class="tm" style="left:768px">15 Oct 08:00</div>
<div class="tm" style="left:832px">16 Oct 16:00</div>
<div class="tm" style="left:896px">18 Oct 00:00</div>
<div class="tm" style="left:960px">21 Oct 08:00</div>
<div class="tm" style="left:1024px">22 Oct 16:00</div>
<div class="tm" style="left:1088px">24 Oct 00:00</div>
<div class="tm" style="left:1152px">25 Oct 08:00</div>
<div class="tm" style="left:1216px">28 Oct 16:00</div>
<div class="tm" style="left:1280px">30 Oct 00:00</div>
<div class="t" style="left:16.3px;top:34px;transform:scaleX(0.92)">GBPJPY-,H4</div>
<div class="t" style="left:75.4px;top:34px;transform:scaleX(0.89)">140.395</div>
<div class="t" style="left:111.3px;top:34px;transform:scaleX(0.89)">140.471</div>
<div class="t" style="left:147.3px;top:34px;transform:scaleX(0.89)">140.323</div>
<div class="t" style="left:183.4px;top:34px;transform:scaleX(0.89)">140.335</div>
<svg width="20" height="50" style="left:0;top:0"><polygon points="4,40 11.5,40 7.75,35.5" fill="#000"/></svg>
<div class="t" style="left:5.2px;top:572px;transform:scaleX(0.94)">MACD(12,26,9) 0.1591 0.1266</div>
<div class="t" style="left:5.2px;top:775px;transform:scaleX(0.94)">RSI(14) 56.3574</div>
<div class="abs" style="left:2px;top:49px;width:223px;height:64px;background:#fff"></div>
<div class="abs" style="left:4px;top:49px;width:52px;height:25px;background:linear-gradient(#5454f8,#3636de);border:1px solid #1616b8;border-bottom:none;box-sizing:border-box"></div>
<div class="abs" style="left:171px;top:49px;width:52px;height:25px;background:linear-gradient(#5454f8,#3636de);border:1px solid #1616b8;border-bottom:none;box-sizing:border-box"></div>
<div class="abs" style="left:4px;top:73px;width:109px;height:40px;background:linear-gradient(#3434e2,#0202a8);border:1px solid #0c0ca8;border-top-color:#2020c8;box-sizing:border-box"></div>
<div class="abs" style="left:115px;top:73px;width:108px;height:40px;background:linear-gradient(#3434e2,#0202a8);border:1px solid #0c0ca8;border-top-color:#2020c8;box-sizing:border-box"></div>
<div class="abs" style="left:5px;top:72px;width:50px;height:2px;background:#3636de"></div>
<div class="abs" style="left:172px;top:72px;width:50px;height:2px;background:#3636de"></div>
<div class="abs" style="left:8px;top:72px;width:44px;height:1px;background:#2424c4"></div>
<div class="abs" style="left:175px;top:72px;width:44px;height:1px;background:#2424c4"></div>
<div class="abs" style="left:8px;top:73px;width:44px;height:1px;background:#7474f2"></div>
<div class="abs" style="left:175px;top:73px;width:44px;height:1px;background:#7474f2"></div>
<div class="abs" style="left:58px;top:49px;width:111px;height:22px;background:#fff;border:1px solid #b4b4b4;box-sizing:border-box"></div>
<div class="abs" style="left:59px;top:50px;width:21px;height:20px;background:linear-gradient(#f0f0f0,#e2e2e2);border-right:1px solid #c0c0c0;box-sizing:border-box"></div>
<div class="abs" style="left:147px;top:50px;width:21px;height:20px;background:linear-gradient(#f0f0f0,#e2e2e2);border-left:1px solid #c0c0c0;box-sizing:border-box"></div>
<svg width="230" height="120"><polygon points="66,58 71,58 68.5,61" fill="#000"/><polygon points="155,61 160,61 157.5,58" fill="#000"/></svg>
<div class="abs" style="left:3.6px;top:53.8px;width:52px;text-align:center;color:#fff;font-size:12.4px;line-height:14px;transform:scaleX(0.88)">SELL</div>
<div class="abs" style="left:170.2px;top:53.8px;width:52px;text-align:center;color:#fff;font-size:12.4px;line-height:14px;transform:scaleX(0.95)">BUY</div>
<div class="abs" style="left:80px;top:52px;width:63.6px;text-align:right;color:#000;font-size:13px;line-height:15px;transform:scaleX(0.9);transform-origin:100% 0">1.00</div>
<div class="abs" style="left:27.5px;top:94.2px;color:#fff;font-size:11.8px;line-height:12px;font-weight:bold;letter-spacing:0.2px">140</div>
<div class="abs" style="left:52px;top:73.8px;color:#fff;font-size:34.2px;line-height:38px;transform:scaleX(0.915);transform-origin:0 0">33</div>
<div class="abs" style="left:91.2px;top:77.8px;color:#fff;font-size:12px;line-height:12px;font-weight:bold">5</div>
<div class="abs" style="left:137.8px;top:94.2px;color:#fff;font-size:11.8px;line-height:12px;font-weight:bold;letter-spacing:0.2px">140</div>
<div class="abs" style="left:163.5px;top:73.8px;color:#fff;font-size:34.2px;line-height:38px;transform:scaleX(0.915);transform-origin:0 0">50</div>
<div class="abs" style="left:202px;top:77.8px;color:#fff;font-size:12px;line-height:12px;font-weight:bold">0</div>
<svg width="1676" height="27" viewBox="0 0 1676 27" style="position:absolute;left:0;top:0">
<defs>
<linearGradient id="gp" x1="0" y1="0" x2="1" y2="1"><stop offset="0" stop-color="#4dff4d"/><stop offset="1" stop-color="#009a00"/></linearGradient>
<linearGradient id="gy" x1="0" y1="0" x2="0" y2="1"><stop offset="0" stop-color="#ffe870"/><stop offset="1" stop-color="#d09a10"/></linearGradient>
<linearGradient id="gb" x1="0" y1="0" x2="0" y2="1"><stop offset="0" stop-color="#58b8ff"/><stop offset="1" stop-color="#1070e0"/></linearGradient>
<linearGradient id="gc" x1="0" y1="0" x2="0" y2="1"><stop offset="0" stop-color="#ffffff"/><stop offset="1" stop-color="#c8d8f0"/></linearGradient>
<radialGradient id="gl" cx="0.4" cy="0.35" r="0.7"><stop offset="0" stop-color="#ffffff"/><stop offset="1" stop-color="#cfe4ff"/></radialGradient>
<pattern id="chk" width="2" height="2" patternUnits="userSpaceOnUse"><rect width="2" height="2" fill="#f6f6f6"/><rect width="1" height="1" fill="#ffffff"/><rect x="1" y="1" width="1" height="1" fill="#ffffff"/></pattern>
</defs>
<path d="M0.5 6.8Q0.5 5.8 1.5 5.8L8 5.8L11.3 9.1L11.3 17.3Q11.3 18.3 10.3 18.3L1.5 18.3Q0.5 18.3 0.5 17.3Z" fill="#fdfdfd" stroke="#6a6a6a" stroke-width="1"/><path d="M8 5.8L8 9.1L11.3 9.1" fill="#d8d8d8" stroke="#6a6a6a" stroke-width="0.8"/>
<g stroke="#808080" stroke-width="1"><line x1="2.5" y1="8.5" x2="6" y2="8.5"/><line x1="2.5" y1="11.5" x2="8" y2="11.5"/><line x1="2.5" y1="13.5" x2="7" y2="13.5"/></g>
<path d="M8.0 11.7H11.8V15.299999999999999H15.4V19.099999999999998H11.8V22.7H8.0V19.099999999999998H4.4V15.299999999999999H8.0Z" fill="url(#gp)" stroke="#0a7a0a" stroke-width="0.9"/>
<g transform="translate(19.3,15.6)"><text x="0" y="0" font-family="'Liberation Sans','Noto Sans CJK SC',sans-serif" font-size="12" fill="#000">新订单</text></g>
<path d="M73 6.2L83 13.4L74.6 20.7L67 15Z" fill="url(#gy)" stroke="#b07818" stroke-width="1"/><path d="M67 15L74.6 20.7L83 13.4L82.4 15.2L74.8 22L67.4 16.4Z" fill="#c89020"/>
<path d="M97.5 5.5L107.5 5.5L108 14L98.5 14Z" fill="url(#gb)" stroke="#1a6ad0" stroke-width="0.8"/><rect x="101.5" y="7" width="5.2" height="6" fill="#d8ecff"/><rect x="102" y="9" width="4" height="1" fill="#2080e0"/>
<path d="M98 20.5Q94.8 20.5 95 18Q95.2 15.8 98 16Q98.8 13 102 13.6Q104.4 12.6 105.8 15Q109 14.2 109.6 16.8Q111.4 17.2 111 19Q110.6 20.5 108.5 20.5Z" fill="url(#gc)" stroke="#7a9ad0" stroke-width="0.9"/>
<g fill="none"><circle cx="131" cy="12.9" r="7.4" stroke="#9ab4e0" stroke-width="1.3"/><circle cx="131" cy="12.9" r="4.8" stroke="#6a90d8" stroke-width="1.3"/><circle cx="131" cy="12.9" r="2.3" stroke="#3a6cd0" stroke-width="1.3"/></g>
<path d="M131 12.9L131 21Q138.6 20.4 138.8 12.9Q138.4 9 136.5 7.4Z" fill="#5aaa5a" opacity="0.75"/><path d="M131 13L131 21" stroke="#10a010" stroke-width="1.5"/><circle cx="131" cy="12.9" r="1.6" fill="#2a60d8"/>
<path d="M151 11.5L165 11.5L160 20.6L157 20.6Z" fill="url(#gy)" stroke="#c8a020" stroke-width="0.8"/>
<path d="M150.2 10.4Q150 8.6 153.6 8.6Q154.4 5 158 5Q161.8 5 162.4 8.4Q166 8.4 165.8 10.2Q162 12.6 158 12.4Q153.6 12.6 150.2 10.4Z" fill="#58a8e0" stroke="#3a80c0" stroke-width="0.8"/>
<circle cx="162.6" cy="16.8" r="4" fill="#dd1c10"/><rect x="161" y="15.2" width="3.2" height="3.2" fill="#fff"/>
<g transform="translate(171.0,15.9)"><text x="0" y="0" font-family="'Liberation Sans','Noto Sans CJK SC',sans-serif" font-size="12" fill="#000">自动交易</text></g>
<rect x="226" y="0" width="1" height="25" fill="#a0a0a0" shape-rendering="crispEdges"/><rect x="227" y="0" width="1" height="25" fill="#ffffff" shape-rendering="crispEdges"/>
<rect x="230" y="3" width="3" height="1" fill="#a8a8a8" shape-rendering="crispEdges"/>
<rect x="230" y="5" width="3" height="1" fill="#a8a8a8" shape-rendering="crispEdges"/>
<rect x="230" y="7" width="3" height="1" fill="#a8a8a8" shape-rendering="crispEdges"/>
<rect x="230" y="9" width="3" height="1" fill="#a8a8a8" shape-rendering="crispEdges"/>
<rect x="230" y="11" width="3" height="1" fill="#a8a8a8" shape-rendering="crispEdges"/>
<rect x="230" y="13" width="3" height="1" fill="#a8a8a8" shape-rendering="crispEdges"/>
<rect x="230" y="15" width="3" height="1" fill="#a8a8a8" shape-rendering="crispEdges"/>
<rect x="230" y="17" width="3" height="1" fill="#a8a8a8" shape-rendering="crispEdges"/>
<rect x="230" y="19" width="3" height="1" fill="#a8a8a8" shape-rendering="crispEdges"/>
<rect x="230" y="21" width="3" height="1" fill="#a8a8a8" shape-rendering="crispEdges"/>
<g stroke="#505050" stroke-width="1.2" fill="#505050"><line x1="244.3" y1="8" x2="244.3" y2="21"/><line x1="242" y1="18.7" x2="254.5" y2="18.7"/><polygon points="244.3,6.6 242.6,9.2 246,9.2" stroke="none"/><polygon points="256,18.7 253.4,17 253.4,20.4" stroke="none"/></g>
<g stroke="#109010" stroke-width="1.4" fill="none"><path d="M250.4 8.6V16.4M250.4 9.3H253M247.8 15.6H250.4"/></g>
<g shape-rendering="crispEdges"><rect x="264" y="1" width="25" height="22" fill="url(#chk)"/><rect x="264" y="1" width="25" height="1" fill="#a0a0a0"/><rect x="264" y="1" width="1" height="22" fill="#a0a0a0"/><rect x="264" y="22" width="25" height="1" fill="#fff"/><rect x="288" y="1" width="1" height="22" fill="#fff"/></g>
<g stroke="#505050" stroke-width="1.2" fill="#505050"><line x1="272.3" y1="8" x2="272.3" y2="21"/><line x1="270" y1="18.7" x2="282.5" y2="18.7"/><polygon points="272.3,6.6 270.6,9.2 274,9.2" stroke="none"/><polygon points="284,18.7 281.4,17 281.4,20.4" stroke="none"/></g>
<line x1="278.5" y1="5" x2="278.5" y2="17" stroke="#0a8a0a" stroke-width="1.2"/><rect x="276.3" y="7.4" width="4.4" height="7.2" fill="#48e048" stroke="#0a8a0a" stroke-width="1"/>
<g stroke="#505050" stroke-width="1.2" fill="#505050"><line x1="300.3" y1="8" x2="300.3" y2="21"/><line x1="298" y1="18.7" x2="310.5" y2="18.7"/><polygon points="300.3,6.6 298.6,9.2 302,9.2" stroke="none"/><polygon points="312,18.7 309.4,17 309.4,20.4" stroke="none"/></g>
<path d="M299 15.6Q303 11 305.6 10.4Q308 10.6 311 14.4" stroke="#2a9a2a" stroke-width="1.2" fill="none"/>
<rect x="321" y="2" width="1" height="21" fill="#a0a0a0" shape-rendering="crispEdges"/>
<line x1="340" y1="15.2" x2="344.2" y2="19.4" stroke="#a87a10" stroke-width="3.4" stroke-linecap="round"/><line x1="340" y1="15.2" x2="344.2" y2="19.4" stroke="#f0cc40" stroke-width="1.8" stroke-linecap="round"/>
<circle cx="336" cy="11" r="5.4" fill="url(#gl)" stroke="#3c7ad8" stroke-width="1.2"/>
<line x1="333" y1="11" x2="339" y2="11" stroke="#3a86b0" stroke-width="1.6"/>
<line x1="336" y1="8" x2="336" y2="14" stroke="#3a86b0" stroke-width="1.6"/>
<line x1="368.2" y1="15.100000000000001" x2="372.4" y2="19.3" stroke="#a87a10" stroke-width="3.4" stroke-linecap="round"/><line x1="368.2" y1="15.100000000000001" x2="372.4" y2="19.3" stroke="#f0cc40" stroke-width="1.8" stroke-linecap="round"/>
<circle cx="364.2" cy="10.9" r="5.4" fill="url(#gl)" stroke="#3c7ad8" stroke-width="1.2"/>
<line x1="361.2" y1="10.9" x2="367.2" y2="10.9" stroke="#3a86b0" stroke-width="1.6"/>
<rect x="386.2" y="5.2" width="7.8" height="7.7" fill="#3c9a22"/><rect x="387.5" y="8.2" width="5.2" height="3.4" fill="#fff"/><rect x="388.4" y="9.2" width="3.4" height="1" fill="#3c9a22" opacity="0.6"/><rect x="387.2" y="6.2" width="1" height="1" fill="#fff"/>
<rect x="394.3" y="5.2" width="7.8" height="7.7" fill="#2454c8"/><rect x="395.6" y="8.2" width="5.2" height="3.4" fill="#fff"/><rect x="396.5" y="9.2" width="3.4" height="1" fill="#2454c8" opacity="0.6"/><rect x="395.3" y="6.2" width="1" height="1" fill="#fff"/>
<rect x="386.2" y="13.2" width="7.8" height="7.7" fill="#2454c8"/><rect x="387.5" y="16.2" width="5.2" height="3.4" fill="#fff"/><rect x="388.4" y="17.2" width="3.4" height="1" fill="#2454c8" opacity="0.6"/><rect x="387.2" y="14.2" width="1" height="1" fill="#fff"/>
<rect x="394.3" y="13.2" width="7.8" height="7.7" fill="#3c9a22"/><rect x="395.6" y="16.2" width="5.2" height="3.4" fill="#fff"/><rect x="396.5" y="17.2" width="3.4" height="1" fill="#3c9a22" opacity="0.6"/><rect x="395.3" y="14.2" width="1" height="1" fill="#fff"/>
<rect x="411" y="2" width="1" height="21" fill="#a0a0a0" shape-rendering="crispEdges"/>
<g shape-rendering="crispEdges"><rect x="416" y="1" width="25" height="22" fill="url(#chk)"/><rect x="416" y="1" width="25" height="1" fill="#a0a0a0"/><rect x="416" y="1" width="1" height="22" fill="#a0a0a0"/><rect x="416" y="22" width="25" height="1" fill="#fff"/><rect x="440" y="1" width="1" height="22" fill="#fff"/></g>
<g stroke="#505050" stroke-width="1.2" fill="#505050"><line x1="424.3" y1="8" x2="424.3" y2="21"/><line x1="422" y1="18.7" x2="434.5" y2="18.7"/><polygon points="424.3,6.6 422.6,9.2 426,9.2" stroke="none"/><polygon points="436,18.7 433.4,17 433.4,20.4" stroke="none"/></g>
<polygon points="429,9.2 433,12.6 429,16" fill="#70e870" stroke="#109010" stroke-width="1"/>
<g shape-rendering="crispEdges"><rect x="444" y="1" width="25" height="22" fill="url(#chk)"/><rect x="444" y="1" width="25" height="1" fill="#a0a0a0"/><rect x="444" y="1" width="1" height="22" fill="#a0a0a0"/><rect x="444" y="22" width="25" height="1" fill="#fff"/><rect x="468" y="1" width="1" height="22" fill="#fff"/></g>
<g stroke="#505050" stroke-width="1.2" fill="#505050"><line x1="452.3" y1="8" x2="452.3" y2="21"/><line x1="450" y1="18.7" x2="462.5" y2="18.7"/><polygon points="452.3,6.6 450.6,9.2 454,9.2" stroke="none"/><polygon points="464,18.7 461.4,17 461.4,20.4" stroke="none"/></g>
<line x1="458.6" y1="7" x2="458.6" y2="16.8" stroke="#1a6aa8" stroke-width="1.3"/><path d="M459.8 12.5L464.2 12.5M459.8 12.5L462 10.6M459.8 12.5L462 14.4" stroke="#d03010" stroke-width="1.2" fill="none"/>
<rect x="473" y="2" width="1" height="21" fill="#a0a0a0" shape-rendering="crispEdges"/>
<path d="M483.5 6.8Q483.5 5.8 484.5 5.8L491 5.8L494.3 9.1L494.3 17.3Q494.3 18.3 493.3 18.3L484.5 18.3Q483.5 18.3 483.5 17.3Z" fill="#fdfdfd" stroke="#6a6a6a" stroke-width="1"/><path d="M491 5.8L491 9.1L494.3 9.1" fill="#d8d8d8" stroke="#6a6a6a" stroke-width="0.8"/>
<text x="485.6" y="14" font-family="Liberation Serif, serif" font-style="italic" font-size="9" fill="#705030">f</text>
<path d="M491.1 11.2H494.9V14.799999999999999H498.5V18.599999999999998H494.9V22.2H491.1V18.599999999999998H487.5V14.799999999999999H491.1Z" fill="url(#gp)" stroke="#0a7a0a" stroke-width="0.9"/>
<polygon points="504.7,12.2 510.09999999999997,12.2 507.4,15" fill="#000"/>
<circle cx="528.9" cy="12.9" r="7" fill="#f4f6fa" stroke="#1262cc" stroke-width="2.2"/><circle cx="528.9" cy="12.9" r="4.6" fill="none" stroke="#9098a8" stroke-width="1" stroke-dasharray="0.6 1.8"/><circle cx="528.9" cy="12.9" r="5.6" fill="none" stroke="#9ac0f0" stroke-width="0.6"/><path d="M528.9 9V13H531.6" stroke="#202020" stroke-width="1.1" fill="none"/>
<polygon points="543.6,12.2 549.0,12.2 546.3000000000001,15" fill="#000"/>
<rect x="560.5" y="6.5" width="15" height="13" fill="#fff" stroke="#3a6cc8" stroke-width="1.2"/><rect x="560.5" y="6.5" width="15" height="1.6" fill="#6a98e0"/><line x1="561" y1="13.6" x2="575" y2="13.6" stroke="#3a6cc8" stroke-width="1"/>
<path d="M562.5 11.8L565 11.6L566.5 10.4L569 10.8L571 10.2L573.6 10" stroke="#b02010" stroke-width="1.2" fill="none"/><path d="M562.5 17.4L564.5 16.4L566.5 17.2L569 15.4L571 15.8L573.4 17" stroke="#209030" stroke-width="1.2" fill="none"/>
<polygon points="582.8,12.2 588.1999999999999,12.2 585.5,15" fill="#000"/>
<rect x="594" y="0" width="1" height="25" fill="#a0a0a0" shape-rendering="crispEdges"/><rect x="595" y="0" width="1" height="25" fill="#ffffff" shape-rendering="crispEdges"/>
<rect x="598" y="3" width="3" height="1" fill="#a8a8a8" shape-rendering="crispEdges"/>
<rect x="598" y="5" width="3" height="1" fill="#a8a8a8" shape-rendering="crispEdges"/>
<rect x="598" y="7" width="3" height="1" fill="#a8a8a8" shape-rendering="crispEdges"/>
<rect x="598" y="9" width="3" height="1" fill="#a8a8a8" shape-rendering="crispEdges"/>
<rect x="598" y="11" width="3" height="1" fill="#a8a8a8" shape-rendering="crispEdges"/>
<rect x="598" y="13" width="3" height="1" fill="#a8a8a8" shape-rendering="crispEdges"/>
<rect x="598" y="15" width="3" height="1" fill="#a8a8a8" shape-rendering="crispEdges"/>
<rect x="598" y="17" width="3" height="1" fill="#a8a8a8" shape-rendering="crispEdges"/>
<rect x="598" y="19" width="3" height="1" fill="#a8a8a8" shape-rendering="crispEdges"/>
<rect x="598" y="21" width="3" height="1" fill="#a8a8a8" shape-rendering="crispEdges"/>
<g shape-rendering="crispEdges"><rect x="604" y="1" width="25" height="22" fill="url(#chk)"/><rect x="604" y="1" width="25" height="1" fill="#a0a0a0"/><rect x="604" y="1" width="1" height="22" fill="#a0a0a0"/><rect x="604" y="22" width="25" height="1" fill="#fff"/><rect x="628" y="1" width="1" height="22" fill="#fff"/></g>
<path d="M611.9 5.7V17.3L614.7 14.9L617.5 20.2L619 19.4L616.4 14.3L620 13.5Z" fill="#404040"/>
<g stroke="#404040" stroke-width="1" shape-rendering="crispEdges"><line x1="637" y1="13.5" x2="643" y2="13.5"/><line x1="646" y1="13.5" x2="652" y2="13.5"/><line x1="644.5" y1="6" x2="644.5" y2="12"/><line x1="644.5" y1="15" x2="644.5" y2="21"/><rect x="644" y="13" width="1" height="1" fill="#404040" stroke="none"/></g>
<rect x="661" y="2" width="1" height="21" fill="#a0a0a0" shape-rendering="crispEdges"/>
<g stroke="#404040" stroke-width="1.1"><line x1="678.5" y1="7" x2="678.5" y2="20"/><line x1="701" y1="13.5" x2="713" y2="13.5"/><line x1="728.4" y1="19.9" x2="741.1" y2="8.1"/></g>
<g stroke="#505050" stroke-width="1" fill="none"><line x1="754.6" y1="15.4" x2="767" y2="6"/><line x1="756" y1="19.4" x2="769" y2="9.6"/><line x1="755.4" y1="17.4" x2="768" y2="7.8" stroke-dasharray="1 1"/><line x1="758.5" y1="11" x2="757.5" y2="19"/><line x1="762" y1="8.6" x2="761" y2="17"/><line x1="765.6" y1="6" x2="764.6" y2="14"/></g>
<text x="765.8" y="21.8" font-family="Liberation Sans, sans-serif" font-weight="bold" font-size="6.5" fill="#404040">E</text>
<line x1="784" y1="6.5" x2="798" y2="6.5" stroke="#606060" stroke-width="1" stroke-dasharray="1 1" shape-rendering="crispEdges"/>
<line x1="784" y1="9.5" x2="798" y2="9.5" stroke="#606060" stroke-width="1" stroke-dasharray="1 1" shape-rendering="crispEdges"/>
<line x1="784" y1="12.5" x2="798" y2="12.5" stroke="#606060" stroke-width="1" stroke-dasharray="1 1" shape-rendering="crispEdges"/>
<line x1="784" y1="14.5" x2="798" y2="14.5" stroke="#606060" stroke-width="1" stroke-dasharray="1 1" shape-rendering="crispEdges"/>
<line x1="784" y1="17.5" x2="793" y2="17.5" stroke="#606060" stroke-width="1" stroke-dasharray="1 1" shape-rendering="crispEdges"/>
<text x="793.6" y="21.8" font-family="Liberation Sans, sans-serif" font-weight="bold" font-size="6.5" fill="#404040">F</text>
<text x="814.4" y="18" font-family="Liberation Sans, sans-serif" font-weight="bold" font-size="12.4" fill="#555">A</text>
<rect x="841.5" y="7.5" width="11" height="12" fill="none" stroke="#606060" stroke-width="1" stroke-dasharray="1 1" shape-rendering="crispEdges"/><text x="843" y="18" font-family="Liberation Sans, sans-serif" font-weight="bold" font-size="12" fill="#555">T</text>
<path d="M871.6 6.6L874.6 9.6L871.6 11.8L868.6 9.6Z" fill="#505050"/><path d="M879 13.8L882.2 17L879 20L875.8 17Z" fill="#505050"/><path d="M871 13.4L873.4 16L878 10" stroke="#505050" stroke-width="1.4" fill="none"/>
<polygon points="889,12.2 894.4,12.2 891.7,15" fill="#000"/>
<rect x="900" y="0" width="1" height="25" fill="#a0a0a0" shape-rendering="crispEdges"/><rect x="901" y="0" width="1" height="25" fill="#ffffff" shape-rendering="crispEdges"/>
<rect x="904" y="3" width="3" height="1" fill="#a8a8a8" shape-rendering="crispEdges"/>
<rect x="904" y="5" width="3" height="1" fill="#a8a8a8" shape-rendering="crispEdges"/>
<rect x="904" y="7" width="3" height="1" fill="#a8a8a8" shape-rendering="crispEdges"/>
<rect x="904" y="9" width="3" height="1" fill="#a8a8a8" shape-rendering="crispEdges"/>
<rect x="904" y="11" width="3" height="1" fill="#a8a8a8" shape-rendering="crispEdges"/>
<rect x="904" y="13" width="3" height="1" fill="#a8a8a8" shape-rendering="crispEdges"/>
<rect x="904" y="15" width="3" height="1" fill="#a8a8a8" shape-rendering="crispEdges"/>
<rect x="904" y="17" width="3" height="1" fill="#a8a8a8" shape-rendering="crispEdges"/>
<rect x="904" y="19" width="3" height="1" fill="#a8a8a8" shape-rendering="crispEdges"/>
<rect x="904" y="21" width="3" height="1" fill="#a8a8a8" shape-rendering="crispEdges"/>
<rect x="1161" y="2" width="1" height="21" fill="#a0a0a0" shape-rendering="crispEdges"/>
<g shape-rendering="crispEdges"><rect x="1050" y="1" width="25" height="22" fill="url(#chk)"/><rect x="1050" y="1" width="25" height="1" fill="#a0a0a0"/><rect x="1050" y="1" width="1" height="22" fill="#a0a0a0"/><rect x="1050" y="22" width="25" height="1" fill="#fff"/><rect x="1074" y="1" width="1" height="22" fill="#fff"/></g>
<line x1="1628.6" y1="13.6" x2="1624.2" y2="17.6" stroke="#2458c8" stroke-width="2.3" stroke-linecap="round"/><circle cx="1631.6" cy="10.5" r="4" fill="#f2f4fa" stroke="#2458c8" stroke-width="1.3"/>
<defs><linearGradient id="gch" x1="0" y1="0" x2="0" y2="1"><stop offset="0" stop-color="#ffffff"/><stop offset="1" stop-color="#dcdce8"/></linearGradient></defs>
<path d="M1665.4 13.6L1667.6 16.6L1668.4 13.2Z" fill="#707070"/><ellipse cx="1664.3" cy="9.8" rx="6.3" ry="4.4" fill="url(#gch)" stroke="#a0a0a0" stroke-width="0.9"/>
<path d="M1652.6 16.6L1652.4 19.8L1655.4 17.6Z" fill="#707070"/><ellipse cx="1655.4" cy="14.1" rx="5" ry="3.8" fill="url(#gch)" stroke="#9a9a9a" stroke-width="0.9"/>
</svg>
<div class="tf" style="left:915px">M1</div>
<div class="tf" style="left:943.4px">M5</div>
<div class="tf" style="left:969.3px">M15</div>
<div class="tf" style="left:997.5px">M30</div>
<div class="tf" style="left:1028.6px">H1</div>
<div class="tf" style="left:1055.5px">H4</div>
<div class="tf" style="left:1084.7px">D1</div>
<div class="tf" style="left:1111.8px">W1</div>
<div class="tf" style="left:1138.6px">MN</div></body></html>
